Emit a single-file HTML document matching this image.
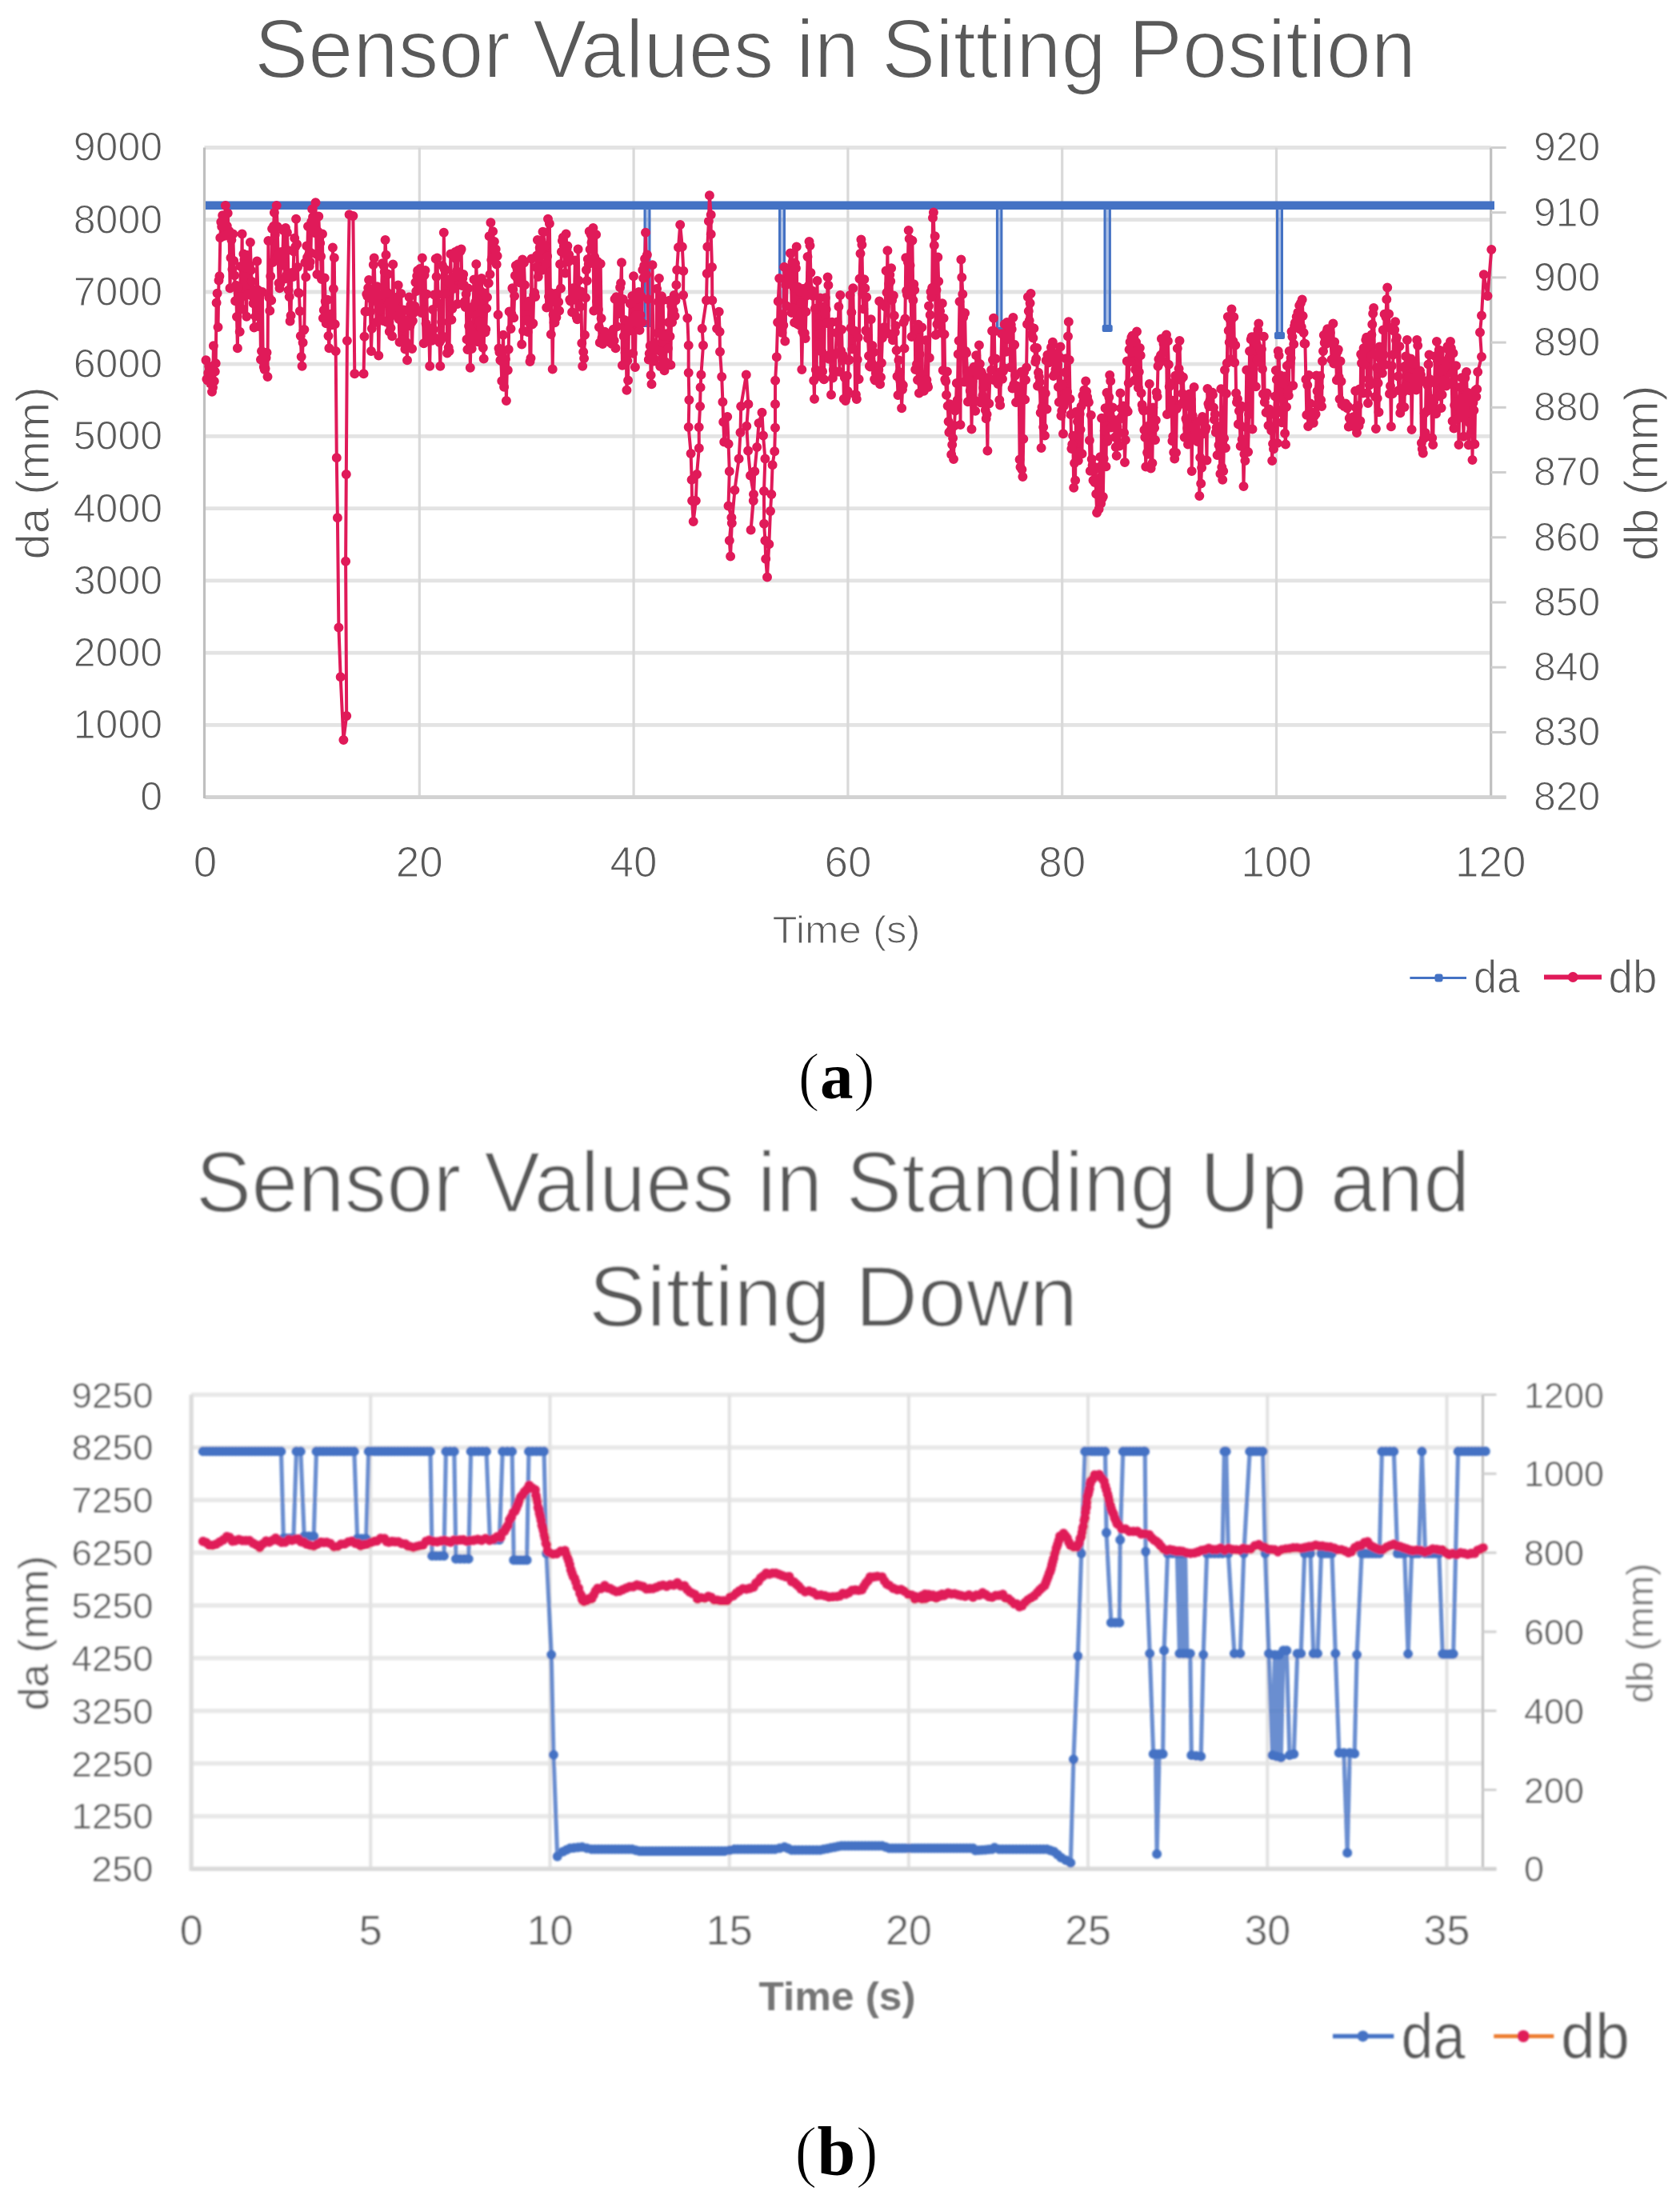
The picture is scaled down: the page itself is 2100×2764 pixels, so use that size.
<!DOCTYPE html><html><head><meta charset="utf-8"><title>Sensor Values</title>
<style>html,body{margin:0;padding:0;background:#fff}svg{display:block}text{font-family:"Liberation Sans",sans-serif;fill:#595959;stroke:#fff;stroke-width:1.1px}.ser{stroke:none}.big{stroke-width:2px}.par{stroke:#fff;stroke-width:1.8px}.nb{stroke:none}.bg text{stroke-width:.5px}.bg text.big{stroke-width:1.6px}.bg text.nb{stroke:none}.ser{font-family:"Liberation Serif",serif;fill:#000;stroke:none}</style></head><body>
<svg width="2100" height="2764" viewBox="0 0 2100 2764">
<rect width="2100" height="2764" fill="#fff"/>
<g id="chartA">
<line x1="255.5" x2="1863.7" y1="184.5" y2="184.5" stroke="#E3E3E3" stroke-width="4.8"/>
<line x1="255.5" x2="1863.7" y1="274.7" y2="274.7" stroke="#E3E3E3" stroke-width="4.8"/>
<line x1="255.5" x2="1863.7" y1="365.0" y2="365.0" stroke="#E3E3E3" stroke-width="4.8"/>
<line x1="255.5" x2="1863.7" y1="455.2" y2="455.2" stroke="#E3E3E3" stroke-width="4.8"/>
<line x1="255.5" x2="1863.7" y1="545.4" y2="545.4" stroke="#E3E3E3" stroke-width="4.8"/>
<line x1="255.5" x2="1863.7" y1="635.7" y2="635.7" stroke="#E3E3E3" stroke-width="4.8"/>
<line x1="255.5" x2="1863.7" y1="725.9" y2="725.9" stroke="#E3E3E3" stroke-width="4.8"/>
<line x1="255.5" x2="1863.7" y1="816.1" y2="816.1" stroke="#E3E3E3" stroke-width="4.8"/>
<line x1="255.5" x2="1863.7" y1="906.4" y2="906.4" stroke="#E3E3E3" stroke-width="4.8"/>
<line x1="255.5" x2="1863.7" y1="996.6" y2="996.6" stroke="#E3E3E3" stroke-width="4.8"/>
<line x1="255.5" x2="255.5" y1="184.5" y2="998.1" stroke="#BFBFBF" stroke-width="3.2"/>
<line x1="524.3" x2="524.3" y1="184.5" y2="998.1" stroke="#D9D9D9" stroke-width="3.2"/>
<line x1="792.1" x2="792.1" y1="184.5" y2="998.1" stroke="#D9D9D9" stroke-width="3.2"/>
<line x1="1059.9" x2="1059.9" y1="184.5" y2="998.1" stroke="#D9D9D9" stroke-width="3.2"/>
<line x1="1327.7" x2="1327.7" y1="184.5" y2="998.1" stroke="#D9D9D9" stroke-width="3.2"/>
<line x1="1595.5" x2="1595.5" y1="184.5" y2="998.1" stroke="#D9D9D9" stroke-width="3.2"/>
<line x1="1863.7" x2="1863.7" y1="184.5" y2="998.1" stroke="#BFBFBF" stroke-width="3.2"/>
<line x1="257.0" x2="1882.7" y1="996.6" y2="996.6" stroke="#D2D2D2" stroke-width="4.6"/>
<line x1="1863.7" x2="1882.7" y1="184.5" y2="184.5" stroke="#CFCFCF" stroke-width="3"/>
<line x1="1863.7" x2="1882.7" y1="265.7" y2="265.7" stroke="#CFCFCF" stroke-width="3"/>
<line x1="1863.7" x2="1882.7" y1="346.9" y2="346.9" stroke="#CFCFCF" stroke-width="3"/>
<line x1="1863.7" x2="1882.7" y1="428.1" y2="428.1" stroke="#CFCFCF" stroke-width="3"/>
<line x1="1863.7" x2="1882.7" y1="509.3" y2="509.3" stroke="#CFCFCF" stroke-width="3"/>
<line x1="1863.7" x2="1882.7" y1="590.5" y2="590.5" stroke="#CFCFCF" stroke-width="3"/>
<line x1="1863.7" x2="1882.7" y1="671.8" y2="671.8" stroke="#CFCFCF" stroke-width="3"/>
<line x1="1863.7" x2="1882.7" y1="753.0" y2="753.0" stroke="#CFCFCF" stroke-width="3"/>
<line x1="1863.7" x2="1882.7" y1="834.2" y2="834.2" stroke="#CFCFCF" stroke-width="3"/>
<line x1="1863.7" x2="1882.7" y1="915.4" y2="915.4" stroke="#CFCFCF" stroke-width="3"/>
<line x1="1863.7" x2="1882.7" y1="996.6" y2="996.6" stroke="#CFCFCF" stroke-width="3"/>
<rect x="806.0" y="257" width="6.0" height="148.0" fill="#4472C4" opacity="0.45"/>
<path d="M806.0 257 V405.0 M812.0 257 V405.0" fill="none" stroke="#4472C4" stroke-width="3"/>
<rect x="802.5" y="400.0" width="13.0" height="9" rx="2" fill="#4472C4"/>
<rect x="974.5" y="257" width="6.0" height="143.0" fill="#4472C4" opacity="0.45"/>
<path d="M974.5 257 V400.0 M980.5 257 V400.0" fill="none" stroke="#4472C4" stroke-width="3"/>
<rect x="971.0" y="395.0" width="13.0" height="9" rx="2" fill="#4472C4"/>
<rect x="1246.4" y="257" width="5.5" height="157.0" fill="#4472C4" opacity="0.45"/>
<path d="M1246.4 257 V414.0 M1251.9 257 V414.0" fill="none" stroke="#4472C4" stroke-width="3"/>
<rect x="1242.7" y="409.0" width="13.0" height="9" rx="2" fill="#4472C4"/>
<rect x="1381.0" y="257" width="6.4" height="154.0" fill="#4472C4" opacity="0.45"/>
<path d="M1381.0 257 V411.0 M1387.4 257 V411.0" fill="none" stroke="#4472C4" stroke-width="3"/>
<rect x="1377.7" y="406.0" width="13.0" height="9" rx="2" fill="#4472C4"/>
<rect x="1596.5" y="257" width="6.0" height="163.0" fill="#4472C4" opacity="0.45"/>
<path d="M1596.5 257 V420.0 M1602.5 257 V420.0" fill="none" stroke="#4472C4" stroke-width="3"/>
<rect x="1593.0" y="415.0" width="13.0" height="9" rx="2" fill="#4472C4"/>
<line x1="257.0" x2="1868.0" y1="256.8" y2="256.8" stroke="#4472C4" stroke-width="10.5"/>
<path d="M257.5 450.3 L258.4 474.1 L259.4 475.5 L260.3 466.3 L261.3 457.8 L262.2 466.6 L263.1 479.4 L264.1 474.3 L265.0 489.7 L266.0 484.2 L266.9 432.2 L267.8 476.4 L268.8 464.5 L269.7 454.2 L270.6 378.4 L271.6 366.8 L272.5 409.0 L273.5 350.4 L274.4 345.2 L275.3 297.3 L276.3 277.6 L277.2 283.3 L278.2 269.3 L279.1 282.9 L280.0 295.1 L281.0 279.4 L281.9 257.0 L282.8 283.2 L283.8 282.4 L284.7 266.4 L285.7 292.6 L286.6 289.1 L287.5 360.2 L288.5 322.3 L289.4 300.1 L290.4 336.7 L291.3 292.6 L292.2 326.1 L293.2 344.2 L294.1 376.3 L295.0 356.7 L296.0 395.9 L296.9 435.3 L297.9 359.3 L298.8 371.3 L299.7 414.7 L300.7 333.1 L301.6 371.4 L302.6 292.6 L303.5 386.8 L304.4 317.4 L305.4 324.4 L306.3 325.8 L307.2 334.7 L308.2 395.8 L309.1 319.1 L310.1 368.0 L311.0 367.3 L311.9 332.0 L312.9 302.9 L313.8 337.7 L314.8 352.1 L315.7 370.6 L316.6 379.3 L317.6 409.5 L318.5 362.6 L319.4 395.6 L320.4 371.1 L321.3 326.4 L322.3 362.5 L323.2 408.1 L324.1 376.9 L325.1 367.9 L326.0 449.6 L327.0 439.0 L327.9 365.1 L328.8 451.7 L329.8 458.7 L330.7 462.0 L331.6 460.8 L332.6 447.3 L333.5 440.7 L334.5 470.9 L335.4 301.1 L336.3 372.1 L337.3 388.5 L338.2 345.2 L339.2 375.4 L340.1 286.0 L341.0 328.0 L342.0 282.8 L342.9 265.7 L343.8 293.4 L344.8 324.3 L345.7 257.0 L346.7 283.3 L347.6 318.3 L348.5 353.9 L349.5 360.2 L350.4 354.4 L351.4 315.0 L352.3 331.8 L353.2 325.4 L354.2 288.1 L355.1 317.9 L356.0 348.5 L357.0 285.1 L357.9 344.6 L358.9 290.6 L359.8 312.9 L360.7 362.7 L361.7 371.1 L362.6 401.5 L363.6 394.4 L364.5 341.0 L365.4 342.3 L366.4 346.0 L367.3 314.6 L368.2 297.7 L369.2 308.5 L370.1 273.8 L371.1 305.3 L372.0 334.1 L372.9 366.1 L373.9 366.4 L374.8 389.0 L375.8 419.9 L376.7 446.1 L377.6 457.8 L378.6 428.3 L379.5 412.9 L380.4 411.9 L381.4 328.3 L382.3 346.3 L383.3 307.6 L384.1 321.8 L385.0 282.9 L385.9 318.4 L386.7 332.7 L387.6 327.4 L388.5 316.1 L389.3 276.9 L390.2 261.5 L391.1 271.2 L391.9 287.8 L392.8 278.0 L393.7 291.2 L394.5 253.2 L395.5 317.8 L396.4 343.0 L397.3 289.2 L398.3 270.4 L399.2 292.4 L400.2 303.9 L401.1 320.6 L402.0 348.9 L403.0 292.4 L403.9 397.7 L404.8 387.8 L405.8 347.6 L406.7 376.7 L407.7 404.3 L408.6 394.6 L409.5 374.8 L410.5 420.0 L411.4 435.3 L412.3 399.9 L413.2 403.7 L414.1 392.6 L415.0 406.2 L415.9 309.5 L416.9 361.0 L417.8 322.3 L418.7 405.3 L419.7 439.0 L420.8 572.3 L421.9 647.3 L423.4 784.4 L425.7 846.3 L429.4 925.1 L433.2 895.1 L432.1 701.8 L432.8 592.9 L433.9 425.9 L436.6 268.2 L441.4 270.1 L443.3 467.2 L454.6 467.2 L455.5 420.8 L456.5 389.5 L457.4 389.4 L458.3 367.7 L459.3 370.2 L460.2 360.0 L461.1 349.9 L462.1 372.5 L463.0 389.6 L464.0 439.1 L464.9 410.7 L465.8 372.1 L466.8 331.1 L467.7 322.6 L468.7 364.1 L469.6 370.0 L470.5 402.8 L471.5 358.2 L472.4 379.0 L473.3 444.6 L474.3 387.9 L475.2 383.6 L476.1 400.3 L477.0 368.4 L477.9 329.3 L478.9 400.9 L479.8 332.3 L480.7 339.9 L481.6 300.1 L482.5 318.7 L483.3 402.8 L484.2 365.8 L485.1 342.8 L485.9 379.1 L486.8 414.4 L487.7 391.7 L488.5 409.9 L489.4 386.0 L490.2 420.2 L491.2 330.4 L492.1 373.4 L493.1 381.7 L494.0 373.2 L494.9 375.6 L495.9 395.0 L496.8 371.5 L497.7 356.4 L498.6 399.0 L499.5 427.8 L500.3 387.6 L501.2 367.0 L502.1 392.2 L502.9 424.7 L503.8 409.3 L504.7 387.5 L505.5 407.5 L506.4 436.4 L507.3 400.6 L508.1 428.0 L509.0 450.3 L509.9 387.3 L510.7 404.5 L511.6 371.5 L512.5 407.2 L513.3 381.3 L514.2 403.2 L515.1 435.9 L515.9 400.9 L516.8 391.6 L517.7 386.3 L518.5 382.8 L519.4 353.0 L520.3 363.9 L521.2 344.9 L522.1 338.3 L523.1 351.5 L524.0 338.9 L525.0 336.0 L525.9 356.7 L526.8 390.9 L527.8 322.6 L528.7 387.0 L529.7 429.2 L530.6 344.0 L531.5 338.0 L532.5 404.6 L533.4 367.8 L534.3 416.0 L535.3 419.2 L536.2 413.5 L537.2 457.8 L538.1 410.8 L539.0 423.6 L540.0 425.8 L540.9 387.0 L541.9 412.0 L542.8 368.4 L543.7 422.4 L544.7 323.4 L545.6 346.1 L546.5 322.6 L547.5 368.0 L548.4 379.3 L549.4 428.1 L550.3 457.8 L551.2 425.1 L552.1 402.6 L553.0 332.1 L553.9 420.7 L554.8 290.7 L555.6 336.2 L556.5 367.1 L557.3 337.4 L558.2 350.8 L559.0 441.6 L559.9 349.2 L560.7 434.5 L561.6 439.0 L562.5 354.3 L563.4 317.4 L564.4 399.8 L565.3 385.9 L566.3 346.1 L567.2 360.8 L568.1 345.7 L569.1 315.1 L570.0 323.4 L570.9 339.0 L571.9 380.0 L572.8 313.1 L573.8 313.6 L574.7 313.3 L575.6 314.0 L576.6 311.4 L577.4 357.0 L578.3 348.1 L579.2 343.1 L580.0 356.2 L580.9 376.9 L581.8 384.1 L582.6 367.8 L583.5 424.2 L584.4 436.9 L585.2 360.5 L586.1 407.5 L587.0 392.8 L587.8 459.7 L588.8 413.1 L589.7 436.0 L590.7 416.6 L591.6 382.9 L592.5 349.5 L593.5 426.1 L594.4 377.5 L595.3 330.2 L596.3 357.2 L597.2 427.2 L598.2 420.3 L599.1 401.8 L600.0 363.1 L601.0 408.9 L601.9 348.1 L602.9 402.3 L603.8 434.8 L604.7 448.4 L605.6 366.6 L606.5 415.4 L607.3 411.8 L608.2 385.5 L609.0 371.6 L609.9 354.1 L610.8 354.1 L611.6 295.2 L612.5 343.0 L613.4 278.3 L614.3 325.0 L615.2 322.0 L616.1 289.2 L617.0 301.9 L617.9 301.9 L618.8 311.9 L619.7 311.4 L620.7 330.5 L621.6 319.9 L622.6 393.5 L623.5 435.6 L624.4 440.2 L625.4 450.3 L626.3 450.9 L627.3 476.3 L628.2 440.3 L629.1 418.7 L630.1 483.7 L631.0 460.4 L631.9 449.1 L632.9 500.9 L633.8 463.3 L634.8 462.7 L635.7 436.7 L636.6 389.5 L637.6 390.1 L638.5 411.0 L639.5 392.7 L640.4 360.2 L641.3 361.7 L642.2 397.2 L643.1 370.1 L643.9 344.5 L644.8 332.0 L645.7 346.6 L646.6 336.9 L647.5 330.2 L648.4 330.4 L649.4 353.2 L650.3 341.0 L651.3 330.8 L652.2 430.6 L653.1 324.5 L654.1 413.7 L655.0 328.6 L656.0 356.3 L656.9 400.8 L657.8 382.8 L658.8 400.2 L659.7 414.9 L660.6 401.6 L661.6 376.4 L662.5 452.1 L663.5 447.7 L664.4 323.5 L665.3 405.4 L666.3 404.3 L667.2 369.1 L668.2 366.1 L669.1 371.0 L670.0 334.1 L671.0 319.6 L671.9 300.1 L672.8 346.0 L673.8 323.0 L674.7 309.8 L675.7 312.1 L676.6 300.8 L677.5 337.7 L678.5 289.7 L679.4 290.1 L680.4 306.8 L681.3 307.7 L682.2 330.1 L683.2 384.4 L684.1 320.3 L685.0 273.8 L686.0 370.8 L686.9 279.5 L687.9 366.1 L688.8 417.9 L689.7 377.4 L690.7 461.5 L691.6 393.6 L692.6 403.3 L693.5 403.2 L694.4 366.9 L695.4 396.8 L696.3 390.2 L697.2 388.6 L698.2 377.5 L699.1 388.4 L700.1 330.2 L701.0 360.4 L701.9 314.7 L702.9 300.9 L703.8 296.7 L704.8 307.5 L705.7 316.7 L706.6 341.6 L707.6 292.6 L708.5 311.8 L709.4 307.4 L710.4 327.3 L711.3 318.6 L712.3 374.6 L713.2 376.4 L714.1 375.4 L715.1 390.2 L716.0 360.2 L717.0 365.3 L717.9 374.5 L718.8 325.4 L719.8 364.0 L720.7 396.6 L721.6 399.2 L722.6 311.4 L723.5 350.8 L724.5 368.1 L725.4 383.4 L726.3 364.5 L727.3 429.1 L728.2 457.8 L729.2 439.9 L730.1 447.9 L731.0 418.7 L732.0 372.3 L732.9 337.4 L733.8 350.9 L734.8 323.9 L735.7 330.2 L736.7 289.3 L737.6 311.7 L738.5 292.9 L739.5 303.3 L740.4 308.3 L741.4 285.1 L742.3 388.5 L743.2 321.3 L744.2 329.4 L745.1 293.3 L746.0 376.7 L747.0 327.0 L747.9 387.0 L748.9 409.0 L749.8 428.2 L750.7 329.8 L751.6 397.9 L752.4 422.6 L753.3 430.0 L754.2 428.0 L755.1 425.9 L756.0 414.7 L756.9 426.7 L757.8 421.9 L758.7 424.1 L759.6 423.1 L760.5 418.5 L761.4 426.7 L762.3 418.7 L763.2 428.4 L764.1 428.4 L765.0 430.1 L765.9 426.0 L766.8 411.8 L767.7 425.8 L768.6 373.7 L769.5 435.3 L770.4 371.3 L771.4 408.2 L772.3 373.5 L773.3 392.3 L774.2 381.7 L775.1 359.2 L776.1 354.1 L777.0 328.3 L777.9 456.7 L778.8 374.0 L779.7 420.2 L780.7 400.0 L781.6 440.9 L782.5 412.5 L783.4 487.8 L784.3 451.0 L785.1 475.4 L786.0 405.8 L786.8 413.5 L787.7 379.6 L788.6 400.4 L789.4 378.6 L790.3 370.1 L791.2 441.7 L792.0 345.2 L793.0 371.5 L793.9 459.1 L794.8 394.1 L795.8 403.3 L796.7 373.4 L797.7 372.1 L798.6 365.1 L799.5 412.7 L800.5 394.0 L801.4 370.2 L802.3 403.3 L803.3 337.4 L804.2 347.7 L805.2 332.0 L806.1 323.4 L807.0 290.7 L808.0 343.6 L808.9 318.5 L809.9 374.0 L810.8 449.6 L811.7 442.0 L812.7 432.2 L813.6 469.1 L814.5 480.3 L815.5 331.2 L816.4 446.7 L817.4 451.6 L818.3 428.9 L819.2 437.2 L820.2 437.2 L821.1 361.0 L822.1 416.3 L823.0 377.3 L823.9 347.9 L825.2 458.0 L826.1 439.4 L827.0 370.2 L827.9 447.1 L828.7 375.3 L829.6 420.1 L830.5 463.3 L831.4 452.3 L832.2 456.8 L833.1 417.2 L834.0 420.1 L834.9 435.5 L835.7 403.0 L836.6 375.7 L837.5 420.4 L838.4 456.2 L839.2 382.8 L840.1 403.0 L841.0 393.2 L841.9 388.3 L842.7 368.9 L843.6 395.1 L844.5 375.4 L845.4 356.3 L846.2 337.4 L846.2 337.4 L848.0 309.2 L850.2 281.0 L852.8 308.5 L854.3 338.7 L854.1 368.9 L859.3 397.7 L860.7 431.8 L860.7 465.9 L861.4 500.0 L860.7 534.1 L863.6 566.9 L864.6 599.7 L865.1 625.9 L866.7 652.1 L869.8 625.9 L871.0 593.1 L873.8 560.3 L873.7 534.1 L875.1 507.9 L875.6 484.3 L876.4 468.5 L879.0 431.8 L877.7 410.8 L883.0 375.4 L883.7 342.0 L884.3 308.5 L885.9 276.4 L886.9 244.3 L888.7 268.5 L888.7 292.8 L890.0 334.1 L890.3 375.4 L896.1 410.8 L898.7 389.8 L899.6 414.8 L900.0 439.7 L902.2 471.1 L903.4 502.6 L904.2 527.5 L905.2 552.5 L909.2 521.0 L910.6 555.1 L911.8 589.2 L910.5 632.5 L914.4 646.9 L911.8 675.7 L913.1 695.4 L914.8 654.1 L918.4 612.8 L923.6 573.4 L925.5 540.7 L926.2 507.9 L932.8 468.5 L935.4 505.2 L933.3 532.8 L935.1 563.6 L938.0 594.4 L942.0 618.0 L938.6 662.6 L941.8 625.9 L943.3 589.2 L946.2 559.0 L948.5 528.9 L952.5 515.7 L954.0 544.6 L956.4 573.4 L955.0 614.1 L955.1 654.8 L956.4 675.7 L957.2 698.7 L959.0 721.6 L961.3 680.3 L963.0 639.0 L964.3 618.0 L965.6 581.3 L968.2 564.3 L969.0 534.8 L969.0 505.2 L969.1 475.7 L970.8 446.2 L972.1 403.0 L972.7 376.7 L974.2 347.9 L974.2 347.9 L975.3 403.7 L976.3 409.0 L977.4 416.1 L978.4 392.9 L979.3 406.5 L980.3 333.7 L981.3 426.6 L982.2 356.2 L983.1 382.6 L983.9 337.4 L984.9 350.7 L985.9 352.3 L986.9 345.6 L987.9 316.4 L988.7 316.9 L989.6 390.9 L990.5 328.0 L991.4 385.1 L992.2 359.2 L993.1 403.2 L994.0 329.5 L994.9 335.2 L995.7 308.5 L996.6 404.9 L997.5 358.8 L998.4 361.1 L999.2 406.5 L1000.1 365.1 L1001.0 379.3 L1002.3 462.0 L1003.2 414.5 L1004.0 360.9 L1004.9 417.8 L1005.8 416.4 L1006.7 422.9 L1007.5 389.8 L1008.5 369.5 L1009.5 320.9 L1010.5 357.5 L1011.5 302.0 L1012.5 306.9 L1013.4 341.0 L1014.4 367.9 L1015.4 363.6 L1016.3 370.1 L1017.2 475.8 L1018.0 498.7 L1018.9 385.7 L1019.8 462.3 L1020.7 470.8 L1021.5 351.0 L1022.4 431.1 L1023.3 405.6 L1024.3 417.5 L1025.2 372.4 L1026.2 471.0 L1027.2 439.7 L1028.1 464.3 L1029.0 383.8 L1030.0 474.2 L1030.9 392.0 L1031.8 372.3 L1032.7 386.7 L1033.6 403.9 L1034.6 346.6 L1035.4 356.5 L1036.3 448.8 L1037.2 443.5 L1038.1 443.1 L1039.0 493.4 L1040.0 402.7 L1040.9 472.4 L1041.8 462.3 L1042.8 444.0 L1043.7 465.6 L1044.6 441.9 L1045.6 416.1 L1046.5 402.4 L1047.5 417.1 L1048.4 383.2 L1049.4 464.7 L1050.3 368.9 L1051.2 438.5 L1052.1 412.1 L1053.0 450.7 L1053.9 444.2 L1054.8 498.7 L1055.8 471.9 L1056.9 500.9 L1057.8 496.9 L1058.8 469.7 L1059.7 489.0 L1060.6 450.5 L1061.6 449.9 L1062.5 369.1 L1063.5 410.1 L1064.4 390.4 L1065.3 436.5 L1066.3 360.2 L1067.2 413.8 L1068.1 413.5 L1069.0 493.2 L1069.9 493.2 L1070.8 499.1 L1071.7 449.5 L1072.7 422.0 L1073.6 473.9 L1074.5 348.6 L1075.5 317.0 L1076.4 299.4 L1077.4 306.1 L1078.4 367.9 L1079.3 386.2 L1080.3 349.2 L1081.3 360.2 L1082.2 413.3 L1083.2 371.4 L1084.1 415.2 L1085.0 422.9 L1086.0 445.0 L1086.9 457.8 L1087.8 458.6 L1088.7 399.3 L1089.5 453.8 L1090.4 432.1 L1091.3 456.2 L1092.2 440.3 L1093.1 474.1 L1093.9 475.6 L1094.8 466.3 L1095.7 473.5 L1096.6 462.4 L1097.4 465.1 L1098.3 462.2 L1099.2 376.4 L1100.1 480.3 L1101.0 471.6 L1101.9 453.8 L1102.9 422.5 L1103.8 412.3 L1104.8 409.3 L1105.7 409.0 L1106.6 383.4 L1107.6 338.5 L1108.5 365.7 L1109.4 313.3 L1110.4 417.1 L1111.3 354.7 L1112.3 343.5 L1113.2 351.4 L1114.1 335.3 L1115.1 375.2 L1116.0 425.3 L1116.9 369.5 L1117.8 394.6 L1118.8 415.3 L1119.7 407.2 L1120.6 437.9 L1121.5 470.5 L1122.5 493.9 L1123.4 450.2 L1124.3 465.2 L1125.2 475.8 L1126.2 478.2 L1127.1 510.3 L1128.0 487.1 L1128.8 481.6 L1129.7 402.9 L1130.5 435.4 L1131.4 398.4 L1132.3 322.2 L1133.1 363.5 L1134.0 368.4 L1134.9 327.7 L1135.7 288.1 L1136.7 298.5 L1137.6 331.7 L1138.5 361.5 L1139.5 421.0 L1140.4 300.7 L1141.4 375.2 L1142.3 355.2 L1143.2 362.5 L1144.2 462.1 L1145.1 411.3 L1146.0 455.2 L1147.0 475.0 L1147.9 405.7 L1148.9 491.6 L1149.7 443.1 L1150.6 410.4 L1151.5 478.6 L1152.3 409.3 L1153.2 488.6 L1154.1 486.2 L1154.9 488.7 L1155.8 486.2 L1156.7 478.7 L1157.5 425.3 L1158.4 474.9 L1159.3 481.4 L1160.1 484.1 L1161.0 382.5 L1161.8 447.3 L1162.7 393.7 L1163.5 364.8 L1164.3 371.4 L1165.2 359.8 L1166.0 272.2 L1166.9 265.6 L1167.8 306.7 L1168.7 295.2 L1169.6 418.8 L1170.5 362.5 L1171.4 405.2 L1172.3 321.4 L1173.2 351.7 L1174.1 383.9 L1175.1 388.9 L1176.0 416.1 L1176.9 397.4 L1177.8 379.3 L1178.7 463.1 L1179.6 397.7 L1180.5 417.9 L1181.3 474.3 L1182.2 476.8 L1183.0 493.8 L1183.9 464.5 L1184.7 507.4 L1185.6 527.0 L1186.4 540.4 L1187.3 505.3 L1188.3 538.0 L1189.2 568.2 L1190.2 555.9 L1191.1 547.7 L1192.0 574.1 L1193.0 532.2 L1193.9 513.5 L1194.8 508.0 L1195.8 479.0 L1196.7 500.3 L1197.7 442.8 L1198.6 426.1 L1199.5 377.1 L1200.5 530.9 L1201.4 324.5 L1202.3 346.8 L1203.3 367.8 L1204.2 396.5 L1205.2 477.4 L1206.1 391.3 L1207.0 439.0 L1208.0 441.3 L1208.9 464.5 L1209.9 502.2 L1210.8 474.5 L1211.7 478.7 L1212.7 488.6 L1213.6 463.6 L1214.5 536.6 L1215.5 477.0 L1216.4 460.7 L1217.4 458.7 L1218.3 500.6 L1219.2 513.8 L1220.2 444.2 L1221.1 459.7 L1222.1 468.7 L1223.0 457.8 L1223.9 431.5 L1224.8 455.1 L1225.7 503.3 L1226.6 464.9 L1227.4 467.2 L1228.3 494.5 L1229.2 484.8 L1230.1 477.8 L1230.9 497.4 L1231.8 512.7 L1232.7 523.2 L1233.6 517.9 L1234.4 563.6 L1235.4 472.1 L1236.3 504.5 L1237.3 474.0 L1238.2 474.6 L1239.1 462.4 L1240.1 413.7 L1241.0 449.9 L1242.0 397.7 L1242.9 414.3 L1243.8 475.8 L1244.7 448.5 L1245.6 476.8 L1246.5 470.5 L1247.5 480.1 L1248.4 470.5 L1249.3 500.0 L1250.2 506.6 L1251.1 464.8 L1252.1 417.2 L1253.0 473.7 L1254.0 464.1 L1254.9 459.9 L1255.8 405.3 L1256.8 438.8 L1257.7 439.8 L1258.7 403.0 L1259.6 424.0 L1260.4 419.9 L1261.3 417.2 L1262.1 408.9 L1263.0 459.2 L1263.8 405.9 L1264.7 411.5 L1265.5 485.6 L1266.4 397.0 L1267.3 480.7 L1268.2 431.0 L1269.1 469.2 L1270.0 503.0 L1270.9 482.6 L1271.8 483.0 L1272.7 502.8 L1273.7 488.5 L1274.6 574.5 L1275.5 584.0 L1276.5 465.1 L1277.4 587.1 L1278.4 595.9 L1279.3 548.8 L1280.2 464.9 L1281.2 499.6 L1282.1 474.9 L1283.1 459.6 L1284.0 405.2 L1284.9 371.3 L1285.8 388.9 L1286.7 400.8 L1287.6 379.0 L1288.5 366.9 L1289.5 417.9 L1290.5 409.7 L1291.4 422.4 L1292.4 410.5 L1293.4 435.3 L1294.3 452.3 L1295.2 448.5 L1296.1 434.9 L1297.0 482.5 L1298.0 465.7 L1298.9 470.9 L1299.8 477.8 L1300.7 516.1 L1301.6 559.9 L1302.5 508.9 L1303.4 488.3 L1304.2 533.9 L1305.1 493.6 L1306.0 544.4 L1306.8 491.8 L1307.7 450.6 L1308.5 511.5 L1309.4 443.7 L1310.3 450.3 L1311.2 453.2 L1312.1 442.4 L1313.1 444.1 L1314.0 434.3 L1315.0 446.6 L1315.9 427.7 L1316.8 470.0 L1317.7 445.1 L1318.5 467.3 L1319.4 461.9 L1320.3 442.1 L1321.2 452.3 L1322.0 455.5 L1322.9 483.7 L1323.8 502.7 L1324.7 446.7 L1325.5 433.6 L1326.4 519.8 L1327.3 513.6 L1328.2 480.4 L1329.0 542.2 L1329.9 507.6 L1330.7 496.5 L1331.6 465.5 L1332.4 448.3 L1333.3 501.4 L1334.1 490.0 L1335.0 420.4 L1335.8 402.2 L1336.7 449.9 L1337.6 498.7 L1338.5 518.3 L1339.4 560.9 L1340.3 555.4 L1341.2 544.7 L1342.2 609.8 L1343.1 579.1 L1344.1 600.4 L1345.0 515.1 L1345.9 566.9 L1346.9 526.9 L1347.8 575.7 L1348.7 565.0 L1349.7 517.8 L1350.6 537.1 L1351.6 508.1 L1352.5 567.2 L1353.4 494.5 L1354.4 502.1 L1355.3 487.7 L1356.3 492.1 L1357.2 476.5 L1358.1 489.6 L1359.1 496.3 L1360.0 500.9 L1360.9 502.9 L1361.9 550.4 L1362.8 588.8 L1363.8 519.0 L1364.7 574.1 L1365.6 581.8 L1366.5 600.4 L1367.4 585.6 L1368.3 603.1 L1369.3 586.4 L1370.2 617.6 L1371.1 641.0 L1371.9 605.1 L1372.8 598.1 L1373.6 636.5 L1374.5 583.8 L1375.3 571.3 L1376.1 629.6 L1377.0 522.8 L1377.8 622.9 L1378.8 621.1 L1379.7 573.2 L1380.7 538.4 L1381.6 510.3 L1382.5 583.2 L1383.5 490.9 L1384.4 551.8 L1385.3 548.5 L1386.3 496.6 L1387.2 469.0 L1388.2 476.2 L1389.1 534.4 L1390.0 523.3 L1391.0 509.5 L1391.9 529.2 L1392.9 533.0 L1393.8 546.4 L1394.7 559.1 L1395.7 569.8 L1396.6 533.8 L1397.5 542.2 L1398.5 524.4 L1399.4 557.6 L1400.4 491.6 L1401.3 510.4 L1402.2 520.4 L1403.2 519.1 L1404.1 507.6 L1405.1 541.0 L1406.0 577.9 L1406.9 550.0 L1407.9 511.8 L1408.8 451.5 L1409.7 514.4 L1410.7 479.1 L1411.6 437.1 L1412.6 427.5 L1413.5 452.0 L1414.4 421.7 L1415.4 419.7 L1416.3 440.1 L1417.3 427.6 L1418.2 475.4 L1419.1 462.0 L1420.1 427.7 L1421.0 414.6 L1421.9 441.2 L1422.9 484.8 L1423.8 465.0 L1424.8 435.0 L1425.7 444.2 L1426.6 491.6 L1427.6 506.0 L1428.5 511.2 L1429.5 513.5 L1430.4 537.5 L1431.3 546.8 L1432.3 583.5 L1433.2 533.2 L1434.1 565.7 L1435.0 567.7 L1435.9 513.0 L1436.8 480.0 L1437.7 533.6 L1438.6 585.4 L1439.5 527.8 L1440.4 579.1 L1441.3 509.4 L1442.2 531.2 L1443.1 535.0 L1444.0 550.1 L1444.8 525.2 L1445.7 490.6 L1446.6 495.8 L1447.5 457.8 L1448.4 449.0 L1449.3 454.1 L1450.1 446.9 L1451.0 444.0 L1451.9 423.5 L1452.8 450.9 L1453.6 441.3 L1454.5 430.1 L1455.4 436.3 L1456.3 430.9 L1457.1 425.6 L1458.0 418.4 L1458.9 518.1 L1459.9 426.2 L1460.8 455.7 L1461.7 483.2 L1462.6 478.9 L1463.5 510.7 L1464.5 500.4 L1465.4 551.3 L1466.3 545.4 L1467.2 565.6 L1468.2 573.4 L1469.1 469.7 L1470.0 566.1 L1470.9 511.1 L1471.8 435.6 L1472.7 470.9 L1473.6 461.0 L1474.5 425.9 L1475.4 468.8 L1476.3 474.9 L1477.2 504.7 L1478.0 492.0 L1478.9 471.4 L1479.8 500.9 L1480.7 546.8 L1481.5 497.7 L1482.4 523.2 L1483.3 525.7 L1484.2 535.3 L1485.0 555.4 L1486.0 534.0 L1486.9 492.5 L1487.9 509.1 L1488.8 499.5 L1489.7 589.1 L1490.7 519.4 L1491.6 546.8 L1492.6 484.1 L1493.4 533.4 L1494.2 538.2 L1495.1 538.2 L1495.9 546.7 L1496.8 552.1 L1497.6 540.8 L1498.5 526.7 L1499.3 619.9 L1500.2 571.9 L1501.2 604.6 L1502.1 584.8 L1503.0 521.1 L1503.9 542.2 L1504.8 524.8 L1505.8 526.6 L1506.7 537.9 L1507.6 534.7 L1508.5 575.6 L1509.4 485.9 L1510.4 504.7 L1511.3 508.0 L1512.3 501.0 L1513.2 491.3 L1514.1 495.0 L1515.1 490.5 L1516.0 493.4 L1517.0 509.6 L1517.9 524.5 L1518.8 517.8 L1519.8 540.4 L1520.7 534.6 L1521.6 569.1 L1522.6 533.0 L1523.5 556.3 L1524.5 557.8 L1525.4 592.3 L1526.3 486.3 L1527.3 584.0 L1528.2 599.7 L1529.2 588.9 L1530.1 547.9 L1531.0 462.5 L1532.0 559.9 L1532.9 491.9 L1533.8 454.0 L1534.8 395.9 L1535.7 413.3 L1536.7 428.1 L1537.6 399.7 L1538.5 449.3 L1539.5 386.5 L1540.4 398.0 L1541.4 426.6 L1542.3 396.3 L1543.2 453.2 L1544.2 431.6 L1545.1 491.6 L1546.0 503.1 L1547.0 498.7 L1547.9 530.3 L1548.9 513.8 L1549.8 531.2 L1550.7 557.7 L1551.7 507.6 L1552.6 549.2 L1553.6 552.9 L1554.5 607.9 L1555.4 567.8 L1556.4 576.0 L1557.3 533.9 L1558.2 462.6 L1559.2 509.4 L1560.1 565.1 L1561.1 518.0 L1562.0 439.0 L1562.9 479.6 L1563.7 424.3 L1564.6 421.2 L1565.5 536.6 L1566.3 424.9 L1567.2 423.1 L1568.1 420.7 L1568.9 426.0 L1569.8 483.3 L1570.7 430.3 L1571.5 449.7 L1572.4 412.4 L1573.3 404.5 L1574.2 452.9 L1575.1 437.3 L1576.1 440.0 L1577.0 436.5 L1578.0 461.2 L1578.9 492.4 L1579.8 420.7 L1580.8 502.8 L1581.7 496.4 L1582.6 515.8 L1583.6 491.4 L1584.5 515.2 L1585.5 532.1 L1586.4 511.6 L1587.3 517.9 L1588.3 518.1 L1589.2 538.2 L1590.2 576.0 L1591.1 554.7 L1592.0 561.3 L1593.0 518.0 L1593.9 495.5 L1594.8 462.9 L1595.8 474.5 L1596.7 554.0 L1597.7 439.0 L1598.6 444.3 L1599.5 470.4 L1600.5 469.3 L1601.4 515.5 L1602.3 528.3 L1603.3 511.4 L1604.2 479.7 L1605.2 470.4 L1606.1 541.7 L1607.0 555.4 L1608.0 508.8 L1608.9 457.3 L1609.9 489.1 L1610.8 494.5 L1611.7 439.0 L1612.7 453.5 L1613.6 447.5 L1614.5 414.6 L1615.4 421.0 L1616.3 481.9 L1617.2 430.2 L1618.1 407.6 L1618.9 403.5 L1619.8 403.4 L1620.7 395.9 L1621.6 398.2 L1622.4 390.4 L1623.3 404.4 L1624.2 382.0 L1625.1 411.4 L1625.9 379.1 L1626.8 408.7 L1627.7 374.4 L1628.6 395.1 L1629.6 416.1 L1630.5 429.5 L1631.4 429.7 L1632.4 474.3 L1633.3 518.7 L1634.3 481.6 L1635.2 532.9 L1636.1 468.9 L1637.1 514.5 L1638.0 504.4 L1638.9 520.7 L1639.9 528.8 L1640.8 521.6 L1641.8 528.8 L1642.7 520.2 L1643.6 515.5 L1644.6 517.8 L1645.5 469.5 L1646.5 489.0 L1647.4 507.6 L1648.3 496.2 L1649.3 483.8 L1650.2 470.0 L1651.1 500.0 L1652.1 508.0 L1653.0 451.6 L1654.0 439.0 L1654.8 419.0 L1655.7 428.5 L1656.6 425.8 L1657.5 429.9 L1658.4 414.4 L1659.3 411.2 L1660.2 427.6 L1661.0 423.1 L1661.9 416.0 L1662.8 416.0 L1663.7 428.2 L1664.6 449.6 L1665.5 428.2 L1666.4 404.5 L1667.3 454.4 L1668.2 427.4 L1669.1 438.3 L1670.0 443.9 L1670.9 475.2 L1671.9 439.2 L1672.8 437.0 L1673.7 471.6 L1674.6 499.1 L1675.5 451.4 L1676.5 476.8 L1677.4 505.8 L1678.4 505.8 L1679.3 506.1 L1680.2 508.1 L1681.2 504.8 L1682.1 504.6 L1683.1 506.4 L1684.0 510.3 L1684.9 508.0 L1685.8 533.5 L1686.8 522.8 L1687.7 531.6 L1688.6 528.0 L1689.5 532.4 L1690.5 524.0 L1691.4 521.3 L1692.3 532.8 L1693.2 520.8 L1694.2 488.7 L1695.1 509.8 L1696.0 541.1 L1696.9 523.7 L1697.7 507.2 L1698.6 532.2 L1699.5 486.6 L1700.3 526.2 L1701.2 442.8 L1702.0 454.1 L1702.9 445.8 L1703.8 491.5 L1704.6 435.3 L1705.5 455.8 L1706.4 435.9 L1707.3 425.0 L1708.2 421.7 L1709.1 491.2 L1710.0 503.9 L1710.9 474.0 L1711.8 481.4 L1712.6 430.2 L1713.5 478.3 L1714.4 418.5 L1715.3 405.6 L1716.2 392.1 L1717.1 385.1 L1718.0 442.9 L1719.0 496.0 L1719.9 536.1 L1720.8 459.4 L1721.7 498.0 L1722.6 479.1 L1723.5 515.2 L1724.4 433.6 L1725.3 448.4 L1726.2 450.0 L1727.1 437.7 L1727.9 466.5 L1728.8 412.4 L1729.7 443.6 L1730.6 392.7 L1731.5 456.1 L1732.4 396.2 L1733.3 374.2 L1734.2 359.5 L1735.1 408.8 L1736.1 392.5 L1737.0 492.2 L1738.0 482.6 L1738.9 533.3 L1739.8 457.6 L1740.6 492.2 L1741.5 443.4 L1742.4 413.7 L1743.2 412.2 L1744.1 402.2 L1745.0 425.8 L1745.9 422.0 L1746.8 434.7 L1747.6 470.4 L1748.5 488.0 L1749.4 433.0 L1750.3 516.2 L1751.2 508.4 L1752.0 510.6 L1752.9 486.1 L1753.7 490.5 L1754.6 459.1 L1755.5 509.0 L1756.3 457.7 L1757.2 445.6 L1758.0 482.9 L1758.9 425.0 L1759.9 447.4 L1760.8 471.2 L1761.8 488.1 L1762.7 452.8 L1763.6 448.4 L1764.6 537.0 L1765.5 482.7 L1766.5 472.4 L1767.4 454.9 L1768.4 471.4 L1769.3 474.1 L1770.3 487.5 L1771.2 425.0 L1772.2 432.1 L1773.1 465.5 L1774.0 478.4 L1775.0 463.4 L1776.0 468.5 L1776.9 553.8 L1777.8 561.2 L1778.8 566.5 L1779.8 548.3 L1780.7 516.8 L1781.7 541.1 L1782.6 476.5 L1783.6 513.9 L1784.5 481.8 L1785.5 455.4 L1786.5 443.4 L1787.4 474.3 L1788.3 498.3 L1789.3 507.4 L1790.2 547.6 L1791.2 556.0 L1792.1 502.9 L1793.1 478.5 L1794.0 445.2 L1795.0 517.3 L1795.9 427.0 L1796.9 451.1 L1797.8 495.4 L1798.8 437.6 L1799.7 442.2 L1800.7 464.3 L1801.6 509.9 L1802.6 493.4 L1803.5 475.4 L1804.3 462.2 L1805.2 482.4 L1806.1 451.3 L1806.9 456.9 L1807.8 482.5 L1808.7 435.8 L1809.5 432.9 L1810.4 478.6 L1811.3 446.7 L1812.1 437.0 L1813.0 427.0 L1813.9 435.2 L1814.8 479.8 L1815.6 526.5 L1816.5 441.4 L1817.4 535.5 L1818.2 506.4 L1819.1 525.1 L1820.0 457.2 L1820.9 502.2 L1821.8 524.0 L1822.6 508.2 L1823.5 556.0 L1824.4 503.9 L1825.2 484.1 L1826.1 516.9 L1827.0 472.3 L1827.8 496.9 L1828.7 521.7 L1829.5 545.7 L1830.4 509.7 L1831.3 472.4 L1832.1 517.3 L1833.0 465.0 L1833.9 497.4 L1834.9 491.0 L1835.8 556.3 L1836.8 528.6 L1837.7 501.6 L1838.6 541.0 L1839.6 499.4 L1840.5 575.0 L1841.5 503.2 L1842.4 512.9 L1843.4 555.2 L1844.3 488.1 L1845.3 496.1 L1846.2 486.6 L1847.2 465.0 L1852.0 446.0 L1850.0 415.5 L1852.0 394.6 L1854.8 343.3 L1859.5 370.0 L1864.3 312.0" fill="none" stroke="#E01A59" stroke-width="4" stroke-linejoin="round"/>
<path d="M257.5 450.3h0 M258.4 474.1h0 M259.4 475.5h0 M260.3 466.3h0 M261.3 457.8h0 M262.2 466.6h0 M263.1 479.4h0 M264.1 474.3h0 M265.0 489.7h0 M266.0 484.2h0 M266.9 432.2h0 M267.8 476.4h0 M268.8 464.5h0 M269.7 454.2h0 M270.6 378.4h0 M271.6 366.8h0 M272.5 409.0h0 M273.5 350.4h0 M274.4 345.2h0 M275.3 297.3h0 M276.3 277.6h0 M277.2 283.3h0 M278.2 269.3h0 M279.1 282.9h0 M280.0 295.1h0 M281.0 279.4h0 M281.9 257.0h0 M282.8 283.2h0 M283.8 282.4h0 M284.7 266.4h0 M285.7 292.6h0 M286.6 289.1h0 M287.5 360.2h0 M288.5 322.3h0 M289.4 300.1h0 M290.4 336.7h0 M291.3 292.6h0 M292.2 326.1h0 M293.2 344.2h0 M294.1 376.3h0 M295.0 356.7h0 M296.0 395.9h0 M296.9 435.3h0 M297.9 359.3h0 M298.8 371.3h0 M299.7 414.7h0 M300.7 333.1h0 M301.6 371.4h0 M302.6 292.6h0 M303.5 386.8h0 M304.4 317.4h0 M305.4 324.4h0 M306.3 325.8h0 M307.2 334.7h0 M308.2 395.8h0 M309.1 319.1h0 M310.1 368.0h0 M311.0 367.3h0 M311.9 332.0h0 M312.9 302.9h0 M313.8 337.7h0 M314.8 352.1h0 M315.7 370.6h0 M316.6 379.3h0 M317.6 409.5h0 M318.5 362.6h0 M319.4 395.6h0 M320.4 371.1h0 M321.3 326.4h0 M322.3 362.5h0 M323.2 408.1h0 M324.1 376.9h0 M325.1 367.9h0 M326.0 449.6h0 M327.0 439.0h0 M327.9 365.1h0 M328.8 451.7h0 M329.8 458.7h0 M330.7 462.0h0 M331.6 460.8h0 M332.6 447.3h0 M333.5 440.7h0 M334.5 470.9h0 M335.4 301.1h0 M336.3 372.1h0 M337.3 388.5h0 M338.2 345.2h0 M339.2 375.4h0 M340.1 286.0h0 M341.0 328.0h0 M342.0 282.8h0 M342.9 265.7h0 M343.8 293.4h0 M344.8 324.3h0 M345.7 257.0h0 M346.7 283.3h0 M347.6 318.3h0 M348.5 353.9h0 M349.5 360.2h0 M350.4 354.4h0 M351.4 315.0h0 M352.3 331.8h0 M353.2 325.4h0 M354.2 288.1h0 M355.1 317.9h0 M356.0 348.5h0 M357.0 285.1h0 M357.9 344.6h0 M358.9 290.6h0 M359.8 312.9h0 M360.7 362.7h0 M361.7 371.1h0 M362.6 401.5h0 M363.6 394.4h0 M364.5 341.0h0 M365.4 342.3h0 M366.4 346.0h0 M367.3 314.6h0 M368.2 297.7h0 M369.2 308.5h0 M370.1 273.8h0 M371.1 305.3h0 M372.0 334.1h0 M372.9 366.1h0 M373.9 366.4h0 M374.8 389.0h0 M375.8 419.9h0 M376.7 446.1h0 M377.6 457.8h0 M378.6 428.3h0 M379.5 412.9h0 M380.4 411.9h0 M381.4 328.3h0 M382.3 346.3h0 M383.3 307.6h0 M384.1 321.8h0 M385.0 282.9h0 M385.9 318.4h0 M386.7 332.7h0 M387.6 327.4h0 M388.5 316.1h0 M389.3 276.9h0 M390.2 261.5h0 M391.1 271.2h0 M391.9 287.8h0 M392.8 278.0h0 M393.7 291.2h0 M394.5 253.2h0 M395.5 317.8h0 M396.4 343.0h0 M397.3 289.2h0 M398.3 270.4h0 M399.2 292.4h0 M400.2 303.9h0 M401.1 320.6h0 M402.0 348.9h0 M403.0 292.4h0 M403.9 397.7h0 M404.8 387.8h0 M405.8 347.6h0 M406.7 376.7h0 M407.7 404.3h0 M408.6 394.6h0 M409.5 374.8h0 M410.5 420.0h0 M411.4 435.3h0 M412.3 399.9h0 M413.2 403.7h0 M414.1 392.6h0 M415.0 406.2h0 M415.9 309.5h0 M416.9 361.0h0 M417.8 322.3h0 M418.7 405.3h0 M419.7 439.0h0 M420.8 572.3h0 M421.9 647.3h0 M423.4 784.4h0 M425.7 846.3h0 M429.4 925.1h0 M433.2 895.1h0 M432.1 701.8h0 M432.8 592.9h0 M433.9 425.9h0 M436.6 268.2h0 M441.4 270.1h0 M443.3 467.2h0 M454.6 467.2h0 M455.5 420.8h0 M456.5 389.5h0 M457.4 389.4h0 M458.3 367.7h0 M459.3 370.2h0 M460.2 360.0h0 M461.1 349.9h0 M462.1 372.5h0 M463.0 389.6h0 M464.0 439.1h0 M464.9 410.7h0 M465.8 372.1h0 M466.8 331.1h0 M467.7 322.6h0 M468.7 364.1h0 M469.6 370.0h0 M470.5 402.8h0 M471.5 358.2h0 M472.4 379.0h0 M473.3 444.6h0 M474.3 387.9h0 M475.2 383.6h0 M476.1 400.3h0 M477.0 368.4h0 M477.9 329.3h0 M478.9 400.9h0 M479.8 332.3h0 M480.7 339.9h0 M481.6 300.1h0 M482.5 318.7h0 M483.3 402.8h0 M484.2 365.8h0 M485.1 342.8h0 M485.9 379.1h0 M486.8 414.4h0 M487.7 391.7h0 M488.5 409.9h0 M489.4 386.0h0 M490.2 420.2h0 M491.2 330.4h0 M492.1 373.4h0 M493.1 381.7h0 M494.0 373.2h0 M494.9 375.6h0 M495.9 395.0h0 M496.8 371.5h0 M497.7 356.4h0 M498.6 399.0h0 M499.5 427.8h0 M500.3 387.6h0 M501.2 367.0h0 M502.1 392.2h0 M502.9 424.7h0 M503.8 409.3h0 M504.7 387.5h0 M505.5 407.5h0 M506.4 436.4h0 M507.3 400.6h0 M508.1 428.0h0 M509.0 450.3h0 M509.9 387.3h0 M510.7 404.5h0 M511.6 371.5h0 M512.5 407.2h0 M513.3 381.3h0 M514.2 403.2h0 M515.1 435.9h0 M515.9 400.9h0 M516.8 391.6h0 M517.7 386.3h0 M518.5 382.8h0 M519.4 353.0h0 M520.3 363.9h0 M521.2 344.9h0 M522.1 338.3h0 M523.1 351.5h0 M524.0 338.9h0 M525.0 336.0h0 M525.9 356.7h0 M526.8 390.9h0 M527.8 322.6h0 M528.7 387.0h0 M529.7 429.2h0 M530.6 344.0h0 M531.5 338.0h0 M532.5 404.6h0 M533.4 367.8h0 M534.3 416.0h0 M535.3 419.2h0 M536.2 413.5h0 M537.2 457.8h0 M538.1 410.8h0 M539.0 423.6h0 M540.0 425.8h0 M540.9 387.0h0 M541.9 412.0h0 M542.8 368.4h0 M543.7 422.4h0 M544.7 323.4h0 M545.6 346.1h0 M546.5 322.6h0 M547.5 368.0h0 M548.4 379.3h0 M549.4 428.1h0 M550.3 457.8h0 M551.2 425.1h0 M552.1 402.6h0 M553.0 332.1h0 M553.9 420.7h0 M554.8 290.7h0 M555.6 336.2h0 M556.5 367.1h0 M557.3 337.4h0 M558.2 350.8h0 M559.0 441.6h0 M559.9 349.2h0 M560.7 434.5h0 M561.6 439.0h0 M562.5 354.3h0 M563.4 317.4h0 M564.4 399.8h0 M565.3 385.9h0 M566.3 346.1h0 M567.2 360.8h0 M568.1 345.7h0 M569.1 315.1h0 M570.0 323.4h0 M570.9 339.0h0 M571.9 380.0h0 M572.8 313.1h0 M573.8 313.6h0 M574.7 313.3h0 M575.6 314.0h0 M576.6 311.4h0 M577.4 357.0h0 M578.3 348.1h0 M579.2 343.1h0 M580.0 356.2h0 M580.9 376.9h0 M581.8 384.1h0 M582.6 367.8h0 M583.5 424.2h0 M584.4 436.9h0 M585.2 360.5h0 M586.1 407.5h0 M587.0 392.8h0 M587.8 459.7h0 M588.8 413.1h0 M589.7 436.0h0 M590.7 416.6h0 M591.6 382.9h0 M592.5 349.5h0 M593.5 426.1h0 M594.4 377.5h0 M595.3 330.2h0 M596.3 357.2h0 M597.2 427.2h0 M598.2 420.3h0 M599.1 401.8h0 M600.0 363.1h0 M601.0 408.9h0 M601.9 348.1h0 M602.9 402.3h0 M603.8 434.8h0 M604.7 448.4h0 M605.6 366.6h0 M606.5 415.4h0 M607.3 411.8h0 M608.2 385.5h0 M609.0 371.6h0 M609.9 354.1h0 M610.8 354.1h0 M611.6 295.2h0 M612.5 343.0h0 M613.4 278.3h0 M614.3 325.0h0 M615.2 322.0h0 M616.1 289.2h0 M617.0 301.9h0 M617.9 301.9h0 M618.8 311.9h0 M619.7 311.4h0 M620.7 330.5h0 M621.6 319.9h0 M622.6 393.5h0 M623.5 435.6h0 M624.4 440.2h0 M625.4 450.3h0 M626.3 450.9h0 M627.3 476.3h0 M628.2 440.3h0 M629.1 418.7h0 M630.1 483.7h0 M631.0 460.4h0 M631.9 449.1h0 M632.9 500.9h0 M633.8 463.3h0 M634.8 462.7h0 M635.7 436.7h0 M636.6 389.5h0 M637.6 390.1h0 M638.5 411.0h0 M639.5 392.7h0 M640.4 360.2h0 M641.3 361.7h0 M642.2 397.2h0 M643.1 370.1h0 M643.9 344.5h0 M644.8 332.0h0 M645.7 346.6h0 M646.6 336.9h0 M647.5 330.2h0 M648.4 330.4h0 M649.4 353.2h0 M650.3 341.0h0 M651.3 330.8h0 M652.2 430.6h0 M653.1 324.5h0 M654.1 413.7h0 M655.0 328.6h0 M656.0 356.3h0 M656.9 400.8h0 M657.8 382.8h0 M658.8 400.2h0 M659.7 414.9h0 M660.6 401.6h0 M661.6 376.4h0 M662.5 452.1h0 M663.5 447.7h0 M664.4 323.5h0 M665.3 405.4h0 M666.3 404.3h0 M667.2 369.1h0 M668.2 366.1h0 M669.1 371.0h0 M670.0 334.1h0 M671.0 319.6h0 M671.9 300.1h0 M672.8 346.0h0 M673.8 323.0h0 M674.7 309.8h0 M675.7 312.1h0 M676.6 300.8h0 M677.5 337.7h0 M678.5 289.7h0 M679.4 290.1h0 M680.4 306.8h0 M681.3 307.7h0 M682.2 330.1h0 M683.2 384.4h0 M684.1 320.3h0 M685.0 273.8h0 M686.0 370.8h0 M686.9 279.5h0 M687.9 366.1h0 M688.8 417.9h0 M689.7 377.4h0 M690.7 461.5h0 M691.6 393.6h0 M692.6 403.3h0 M693.5 403.2h0 M694.4 366.9h0 M695.4 396.8h0 M696.3 390.2h0 M697.2 388.6h0 M698.2 377.5h0 M699.1 388.4h0 M700.1 330.2h0 M701.0 360.4h0 M701.9 314.7h0 M702.9 300.9h0 M703.8 296.7h0 M704.8 307.5h0 M705.7 316.7h0 M706.6 341.6h0 M707.6 292.6h0 M708.5 311.8h0 M709.4 307.4h0 M710.4 327.3h0 M711.3 318.6h0 M712.3 374.6h0 M713.2 376.4h0 M714.1 375.4h0 M715.1 390.2h0 M716.0 360.2h0 M717.0 365.3h0 M717.9 374.5h0 M718.8 325.4h0 M719.8 364.0h0 M720.7 396.6h0 M721.6 399.2h0 M722.6 311.4h0 M723.5 350.8h0 M724.5 368.1h0 M725.4 383.4h0 M726.3 364.5h0 M727.3 429.1h0 M728.2 457.8h0 M729.2 439.9h0 M730.1 447.9h0 M731.0 418.7h0 M732.0 372.3h0 M732.9 337.4h0 M733.8 350.9h0 M734.8 323.9h0 M735.7 330.2h0 M736.7 289.3h0 M737.6 311.7h0 M738.5 292.9h0 M739.5 303.3h0 M740.4 308.3h0 M741.4 285.1h0 M742.3 388.5h0 M743.2 321.3h0 M744.2 329.4h0 M745.1 293.3h0 M746.0 376.7h0 M747.0 327.0h0 M747.9 387.0h0 M748.9 409.0h0 M749.8 428.2h0 M750.7 329.8h0 M751.6 397.9h0 M752.4 422.6h0 M753.3 430.0h0 M754.2 428.0h0 M755.1 425.9h0 M756.0 414.7h0 M756.9 426.7h0 M757.8 421.9h0 M758.7 424.1h0 M759.6 423.1h0 M760.5 418.5h0 M761.4 426.7h0 M762.3 418.7h0 M763.2 428.4h0 M764.1 428.4h0 M765.0 430.1h0 M765.9 426.0h0 M766.8 411.8h0 M767.7 425.8h0 M768.6 373.7h0 M769.5 435.3h0 M770.4 371.3h0 M771.4 408.2h0 M772.3 373.5h0 M773.3 392.3h0 M774.2 381.7h0 M775.1 359.2h0 M776.1 354.1h0 M777.0 328.3h0 M777.9 456.7h0 M778.8 374.0h0 M779.7 420.2h0 M780.7 400.0h0 M781.6 440.9h0 M782.5 412.5h0 M783.4 487.8h0 M784.3 451.0h0 M785.1 475.4h0 M786.0 405.8h0 M786.8 413.5h0 M787.7 379.6h0 M788.6 400.4h0 M789.4 378.6h0 M790.3 370.1h0 M791.2 441.7h0 M792.0 345.2h0 M793.0 371.5h0 M793.9 459.1h0 M794.8 394.1h0 M795.8 403.3h0 M796.7 373.4h0 M797.7 372.1h0 M798.6 365.1h0 M799.5 412.7h0 M800.5 394.0h0 M801.4 370.2h0 M802.3 403.3h0 M803.3 337.4h0 M804.2 347.7h0 M805.2 332.0h0 M806.1 323.4h0 M807.0 290.7h0 M808.0 343.6h0 M808.9 318.5h0 M809.9 374.0h0 M810.8 449.6h0 M811.7 442.0h0 M812.7 432.2h0 M813.6 469.1h0 M814.5 480.3h0 M815.5 331.2h0 M816.4 446.7h0 M817.4 451.6h0 M818.3 428.9h0 M819.2 437.2h0 M820.2 437.2h0 M821.1 361.0h0 M822.1 416.3h0 M823.0 377.3h0 M823.9 347.9h0 M825.2 458.0h0 M826.1 439.4h0 M827.0 370.2h0 M827.9 447.1h0 M828.7 375.3h0 M829.6 420.1h0 M830.5 463.3h0 M831.4 452.3h0 M832.2 456.8h0 M833.1 417.2h0 M834.0 420.1h0 M834.9 435.5h0 M835.7 403.0h0 M836.6 375.7h0 M837.5 420.4h0 M838.4 456.2h0 M839.2 382.8h0 M840.1 403.0h0 M841.0 393.2h0 M841.9 388.3h0 M842.7 368.9h0 M843.6 395.1h0 M844.5 375.4h0 M845.4 356.3h0 M846.2 337.4h0 M846.2 337.4h0 M848.0 309.2h0 M850.2 281.0h0 M852.8 308.5h0 M854.3 338.7h0 M854.1 368.9h0 M859.3 397.7h0 M860.7 431.8h0 M860.7 465.9h0 M861.4 500.0h0 M860.7 534.1h0 M863.6 566.9h0 M864.6 599.7h0 M865.1 625.9h0 M866.7 652.1h0 M869.8 625.9h0 M871.0 593.1h0 M873.8 560.3h0 M873.7 534.1h0 M875.1 507.9h0 M875.6 484.3h0 M876.4 468.5h0 M879.0 431.8h0 M877.7 410.8h0 M883.0 375.4h0 M883.7 342.0h0 M884.3 308.5h0 M885.9 276.4h0 M886.9 244.3h0 M888.7 268.5h0 M888.7 292.8h0 M890.0 334.1h0 M890.3 375.4h0 M896.1 410.8h0 M898.7 389.8h0 M899.6 414.8h0 M900.0 439.7h0 M902.2 471.1h0 M903.4 502.6h0 M904.2 527.5h0 M905.2 552.5h0 M909.2 521.0h0 M910.6 555.1h0 M911.8 589.2h0 M910.5 632.5h0 M914.4 646.9h0 M911.8 675.7h0 M913.1 695.4h0 M914.8 654.1h0 M918.4 612.8h0 M923.6 573.4h0 M925.5 540.7h0 M926.2 507.9h0 M932.8 468.5h0 M935.4 505.2h0 M933.3 532.8h0 M935.1 563.6h0 M938.0 594.4h0 M942.0 618.0h0 M938.6 662.6h0 M941.8 625.9h0 M943.3 589.2h0 M946.2 559.0h0 M948.5 528.9h0 M952.5 515.7h0 M954.0 544.6h0 M956.4 573.4h0 M955.0 614.1h0 M955.1 654.8h0 M956.4 675.7h0 M957.2 698.7h0 M959.0 721.6h0 M961.3 680.3h0 M963.0 639.0h0 M964.3 618.0h0 M965.6 581.3h0 M968.2 564.3h0 M969.0 534.8h0 M969.0 505.2h0 M969.1 475.7h0 M970.8 446.2h0 M972.1 403.0h0 M972.7 376.7h0 M974.2 347.9h0 M974.2 347.9h0 M975.3 403.7h0 M976.3 409.0h0 M977.4 416.1h0 M978.4 392.9h0 M979.3 406.5h0 M980.3 333.7h0 M981.3 426.6h0 M982.2 356.2h0 M983.1 382.6h0 M983.9 337.4h0 M984.9 350.7h0 M985.9 352.3h0 M986.9 345.6h0 M987.9 316.4h0 M988.7 316.9h0 M989.6 390.9h0 M990.5 328.0h0 M991.4 385.1h0 M992.2 359.2h0 M993.1 403.2h0 M994.0 329.5h0 M994.9 335.2h0 M995.7 308.5h0 M996.6 404.9h0 M997.5 358.8h0 M998.4 361.1h0 M999.2 406.5h0 M1000.1 365.1h0 M1001.0 379.3h0 M1002.3 462.0h0 M1003.2 414.5h0 M1004.0 360.9h0 M1004.9 417.8h0 M1005.8 416.4h0 M1006.7 422.9h0 M1007.5 389.8h0 M1008.5 369.5h0 M1009.5 320.9h0 M1010.5 357.5h0 M1011.5 302.0h0 M1012.5 306.9h0 M1013.4 341.0h0 M1014.4 367.9h0 M1015.4 363.6h0 M1016.3 370.1h0 M1017.2 475.8h0 M1018.0 498.7h0 M1018.9 385.7h0 M1019.8 462.3h0 M1020.7 470.8h0 M1021.5 351.0h0 M1022.4 431.1h0 M1023.3 405.6h0 M1024.3 417.5h0 M1025.2 372.4h0 M1026.2 471.0h0 M1027.2 439.7h0 M1028.1 464.3h0 M1029.0 383.8h0 M1030.0 474.2h0 M1030.9 392.0h0 M1031.8 372.3h0 M1032.7 386.7h0 M1033.6 403.9h0 M1034.6 346.6h0 M1035.4 356.5h0 M1036.3 448.8h0 M1037.2 443.5h0 M1038.1 443.1h0 M1039.0 493.4h0 M1040.0 402.7h0 M1040.9 472.4h0 M1041.8 462.3h0 M1042.8 444.0h0 M1043.7 465.6h0 M1044.6 441.9h0 M1045.6 416.1h0 M1046.5 402.4h0 M1047.5 417.1h0 M1048.4 383.2h0 M1049.4 464.7h0 M1050.3 368.9h0 M1051.2 438.5h0 M1052.1 412.1h0 M1053.0 450.7h0 M1053.9 444.2h0 M1054.8 498.7h0 M1055.8 471.9h0 M1056.9 500.9h0 M1057.8 496.9h0 M1058.8 469.7h0 M1059.7 489.0h0 M1060.6 450.5h0 M1061.6 449.9h0 M1062.5 369.1h0 M1063.5 410.1h0 M1064.4 390.4h0 M1065.3 436.5h0 M1066.3 360.2h0 M1067.2 413.8h0 M1068.1 413.5h0 M1069.0 493.2h0 M1069.9 493.2h0 M1070.8 499.1h0 M1071.7 449.5h0 M1072.7 422.0h0 M1073.6 473.9h0 M1074.5 348.6h0 M1075.5 317.0h0 M1076.4 299.4h0 M1077.4 306.1h0 M1078.4 367.9h0 M1079.3 386.2h0 M1080.3 349.2h0 M1081.3 360.2h0 M1082.2 413.3h0 M1083.2 371.4h0 M1084.1 415.2h0 M1085.0 422.9h0 M1086.0 445.0h0 M1086.9 457.8h0 M1087.8 458.6h0 M1088.7 399.3h0 M1089.5 453.8h0 M1090.4 432.1h0 M1091.3 456.2h0 M1092.2 440.3h0 M1093.1 474.1h0 M1093.9 475.6h0 M1094.8 466.3h0 M1095.7 473.5h0 M1096.6 462.4h0 M1097.4 465.1h0 M1098.3 462.2h0 M1099.2 376.4h0 M1100.1 480.3h0 M1101.0 471.6h0 M1101.9 453.8h0 M1102.9 422.5h0 M1103.8 412.3h0 M1104.8 409.3h0 M1105.7 409.0h0 M1106.6 383.4h0 M1107.6 338.5h0 M1108.5 365.7h0 M1109.4 313.3h0 M1110.4 417.1h0 M1111.3 354.7h0 M1112.3 343.5h0 M1113.2 351.4h0 M1114.1 335.3h0 M1115.1 375.2h0 M1116.0 425.3h0 M1116.9 369.5h0 M1117.8 394.6h0 M1118.8 415.3h0 M1119.7 407.2h0 M1120.6 437.9h0 M1121.5 470.5h0 M1122.5 493.9h0 M1123.4 450.2h0 M1124.3 465.2h0 M1125.2 475.8h0 M1126.2 478.2h0 M1127.1 510.3h0 M1128.0 487.1h0 M1128.8 481.6h0 M1129.7 402.9h0 M1130.5 435.4h0 M1131.4 398.4h0 M1132.3 322.2h0 M1133.1 363.5h0 M1134.0 368.4h0 M1134.9 327.7h0 M1135.7 288.1h0 M1136.7 298.5h0 M1137.6 331.7h0 M1138.5 361.5h0 M1139.5 421.0h0 M1140.4 300.7h0 M1141.4 375.2h0 M1142.3 355.2h0 M1143.2 362.5h0 M1144.2 462.1h0 M1145.1 411.3h0 M1146.0 455.2h0 M1147.0 475.0h0 M1147.9 405.7h0 M1148.9 491.6h0 M1149.7 443.1h0 M1150.6 410.4h0 M1151.5 478.6h0 M1152.3 409.3h0 M1153.2 488.6h0 M1154.1 486.2h0 M1154.9 488.7h0 M1155.8 486.2h0 M1156.7 478.7h0 M1157.5 425.3h0 M1158.4 474.9h0 M1159.3 481.4h0 M1160.1 484.1h0 M1161.0 382.5h0 M1161.8 447.3h0 M1162.7 393.7h0 M1163.5 364.8h0 M1164.3 371.4h0 M1165.2 359.8h0 M1166.0 272.2h0 M1166.9 265.6h0 M1167.8 306.7h0 M1168.7 295.2h0 M1169.6 418.8h0 M1170.5 362.5h0 M1171.4 405.2h0 M1172.3 321.4h0 M1173.2 351.7h0 M1174.1 383.9h0 M1175.1 388.9h0 M1176.0 416.1h0 M1176.9 397.4h0 M1177.8 379.3h0 M1178.7 463.1h0 M1179.6 397.7h0 M1180.5 417.9h0 M1181.3 474.3h0 M1182.2 476.8h0 M1183.0 493.8h0 M1183.9 464.5h0 M1184.7 507.4h0 M1185.6 527.0h0 M1186.4 540.4h0 M1187.3 505.3h0 M1188.3 538.0h0 M1189.2 568.2h0 M1190.2 555.9h0 M1191.1 547.7h0 M1192.0 574.1h0 M1193.0 532.2h0 M1193.9 513.5h0 M1194.8 508.0h0 M1195.8 479.0h0 M1196.7 500.3h0 M1197.7 442.8h0 M1198.6 426.1h0 M1199.5 377.1h0 M1200.5 530.9h0 M1201.4 324.5h0 M1202.3 346.8h0 M1203.3 367.8h0 M1204.2 396.5h0 M1205.2 477.4h0 M1206.1 391.3h0 M1207.0 439.0h0 M1208.0 441.3h0 M1208.9 464.5h0 M1209.9 502.2h0 M1210.8 474.5h0 M1211.7 478.7h0 M1212.7 488.6h0 M1213.6 463.6h0 M1214.5 536.6h0 M1215.5 477.0h0 M1216.4 460.7h0 M1217.4 458.7h0 M1218.3 500.6h0 M1219.2 513.8h0 M1220.2 444.2h0 M1221.1 459.7h0 M1222.1 468.7h0 M1223.0 457.8h0 M1223.9 431.5h0 M1224.8 455.1h0 M1225.7 503.3h0 M1226.6 464.9h0 M1227.4 467.2h0 M1228.3 494.5h0 M1229.2 484.8h0 M1230.1 477.8h0 M1230.9 497.4h0 M1231.8 512.7h0 M1232.7 523.2h0 M1233.6 517.9h0 M1234.4 563.6h0 M1235.4 472.1h0 M1236.3 504.5h0 M1237.3 474.0h0 M1238.2 474.6h0 M1239.1 462.4h0 M1240.1 413.7h0 M1241.0 449.9h0 M1242.0 397.7h0 M1242.9 414.3h0 M1243.8 475.8h0 M1244.7 448.5h0 M1245.6 476.8h0 M1246.5 470.5h0 M1247.5 480.1h0 M1248.4 470.5h0 M1249.3 500.0h0 M1250.2 506.6h0 M1251.1 464.8h0 M1252.1 417.2h0 M1253.0 473.7h0 M1254.0 464.1h0 M1254.9 459.9h0 M1255.8 405.3h0 M1256.8 438.8h0 M1257.7 439.8h0 M1258.7 403.0h0 M1259.6 424.0h0 M1260.4 419.9h0 M1261.3 417.2h0 M1262.1 408.9h0 M1263.0 459.2h0 M1263.8 405.9h0 M1264.7 411.5h0 M1265.5 485.6h0 M1266.4 397.0h0 M1267.3 480.7h0 M1268.2 431.0h0 M1269.1 469.2h0 M1270.0 503.0h0 M1270.9 482.6h0 M1271.8 483.0h0 M1272.7 502.8h0 M1273.7 488.5h0 M1274.6 574.5h0 M1275.5 584.0h0 M1276.5 465.1h0 M1277.4 587.1h0 M1278.4 595.9h0 M1279.3 548.8h0 M1280.2 464.9h0 M1281.2 499.6h0 M1282.1 474.9h0 M1283.1 459.6h0 M1284.0 405.2h0 M1284.9 371.3h0 M1285.8 388.9h0 M1286.7 400.8h0 M1287.6 379.0h0 M1288.5 366.9h0 M1289.5 417.9h0 M1290.5 409.7h0 M1291.4 422.4h0 M1292.4 410.5h0 M1293.4 435.3h0 M1294.3 452.3h0 M1295.2 448.5h0 M1296.1 434.9h0 M1297.0 482.5h0 M1298.0 465.7h0 M1298.9 470.9h0 M1299.8 477.8h0 M1300.7 516.1h0 M1301.6 559.9h0 M1302.5 508.9h0 M1303.4 488.3h0 M1304.2 533.9h0 M1305.1 493.6h0 M1306.0 544.4h0 M1306.8 491.8h0 M1307.7 450.6h0 M1308.5 511.5h0 M1309.4 443.7h0 M1310.3 450.3h0 M1311.2 453.2h0 M1312.1 442.4h0 M1313.1 444.1h0 M1314.0 434.3h0 M1315.0 446.6h0 M1315.9 427.7h0 M1316.8 470.0h0 M1317.7 445.1h0 M1318.5 467.3h0 M1319.4 461.9h0 M1320.3 442.1h0 M1321.2 452.3h0 M1322.0 455.5h0 M1322.9 483.7h0 M1323.8 502.7h0 M1324.7 446.7h0 M1325.5 433.6h0 M1326.4 519.8h0 M1327.3 513.6h0 M1328.2 480.4h0 M1329.0 542.2h0 M1329.9 507.6h0 M1330.7 496.5h0 M1331.6 465.5h0 M1332.4 448.3h0 M1333.3 501.4h0 M1334.1 490.0h0 M1335.0 420.4h0 M1335.8 402.2h0 M1336.7 449.9h0 M1337.6 498.7h0 M1338.5 518.3h0 M1339.4 560.9h0 M1340.3 555.4h0 M1341.2 544.7h0 M1342.2 609.8h0 M1343.1 579.1h0 M1344.1 600.4h0 M1345.0 515.1h0 M1345.9 566.9h0 M1346.9 526.9h0 M1347.8 575.7h0 M1348.7 565.0h0 M1349.7 517.8h0 M1350.6 537.1h0 M1351.6 508.1h0 M1352.5 567.2h0 M1353.4 494.5h0 M1354.4 502.1h0 M1355.3 487.7h0 M1356.3 492.1h0 M1357.2 476.5h0 M1358.1 489.6h0 M1359.1 496.3h0 M1360.0 500.9h0 M1360.9 502.9h0 M1361.9 550.4h0 M1362.8 588.8h0 M1363.8 519.0h0 M1364.7 574.1h0 M1365.6 581.8h0 M1366.5 600.4h0 M1367.4 585.6h0 M1368.3 603.1h0 M1369.3 586.4h0 M1370.2 617.6h0 M1371.1 641.0h0 M1371.9 605.1h0 M1372.8 598.1h0 M1373.6 636.5h0 M1374.5 583.8h0 M1375.3 571.3h0 M1376.1 629.6h0 M1377.0 522.8h0 M1377.8 622.9h0 M1378.8 621.1h0 M1379.7 573.2h0 M1380.7 538.4h0 M1381.6 510.3h0 M1382.5 583.2h0 M1383.5 490.9h0 M1384.4 551.8h0 M1385.3 548.5h0 M1386.3 496.6h0 M1387.2 469.0h0 M1388.2 476.2h0 M1389.1 534.4h0 M1390.0 523.3h0 M1391.0 509.5h0 M1391.9 529.2h0 M1392.9 533.0h0 M1393.8 546.4h0 M1394.7 559.1h0 M1395.7 569.8h0 M1396.6 533.8h0 M1397.5 542.2h0 M1398.5 524.4h0 M1399.4 557.6h0 M1400.4 491.6h0 M1401.3 510.4h0 M1402.2 520.4h0 M1403.2 519.1h0 M1404.1 507.6h0 M1405.1 541.0h0 M1406.0 577.9h0 M1406.9 550.0h0 M1407.9 511.8h0 M1408.8 451.5h0 M1409.7 514.4h0 M1410.7 479.1h0 M1411.6 437.1h0 M1412.6 427.5h0 M1413.5 452.0h0 M1414.4 421.7h0 M1415.4 419.7h0 M1416.3 440.1h0 M1417.3 427.6h0 M1418.2 475.4h0 M1419.1 462.0h0 M1420.1 427.7h0 M1421.0 414.6h0 M1421.9 441.2h0 M1422.9 484.8h0 M1423.8 465.0h0 M1424.8 435.0h0 M1425.7 444.2h0 M1426.6 491.6h0 M1427.6 506.0h0 M1428.5 511.2h0 M1429.5 513.5h0 M1430.4 537.5h0 M1431.3 546.8h0 M1432.3 583.5h0 M1433.2 533.2h0 M1434.1 565.7h0 M1435.0 567.7h0 M1435.9 513.0h0 M1436.8 480.0h0 M1437.7 533.6h0 M1438.6 585.4h0 M1439.5 527.8h0 M1440.4 579.1h0 M1441.3 509.4h0 M1442.2 531.2h0 M1443.1 535.0h0 M1444.0 550.1h0 M1444.8 525.2h0 M1445.7 490.6h0 M1446.6 495.8h0 M1447.5 457.8h0 M1448.4 449.0h0 M1449.3 454.1h0 M1450.1 446.9h0 M1451.0 444.0h0 M1451.9 423.5h0 M1452.8 450.9h0 M1453.6 441.3h0 M1454.5 430.1h0 M1455.4 436.3h0 M1456.3 430.9h0 M1457.1 425.6h0 M1458.0 418.4h0 M1458.9 518.1h0 M1459.9 426.2h0 M1460.8 455.7h0 M1461.7 483.2h0 M1462.6 478.9h0 M1463.5 510.7h0 M1464.5 500.4h0 M1465.4 551.3h0 M1466.3 545.4h0 M1467.2 565.6h0 M1468.2 573.4h0 M1469.1 469.7h0 M1470.0 566.1h0 M1470.9 511.1h0 M1471.8 435.6h0 M1472.7 470.9h0 M1473.6 461.0h0 M1474.5 425.9h0 M1475.4 468.8h0 M1476.3 474.9h0 M1477.2 504.7h0 M1478.0 492.0h0 M1478.9 471.4h0 M1479.8 500.9h0 M1480.7 546.8h0 M1481.5 497.7h0 M1482.4 523.2h0 M1483.3 525.7h0 M1484.2 535.3h0 M1485.0 555.4h0 M1486.0 534.0h0 M1486.9 492.5h0 M1487.9 509.1h0 M1488.8 499.5h0 M1489.7 589.1h0 M1490.7 519.4h0 M1491.6 546.8h0 M1492.6 484.1h0 M1493.4 533.4h0 M1494.2 538.2h0 M1495.1 538.2h0 M1495.9 546.7h0 M1496.8 552.1h0 M1497.6 540.8h0 M1498.5 526.7h0 M1499.3 619.9h0 M1500.2 571.9h0 M1501.2 604.6h0 M1502.1 584.8h0 M1503.0 521.1h0 M1503.9 542.2h0 M1504.8 524.8h0 M1505.8 526.6h0 M1506.7 537.9h0 M1507.6 534.7h0 M1508.5 575.6h0 M1509.4 485.9h0 M1510.4 504.7h0 M1511.3 508.0h0 M1512.3 501.0h0 M1513.2 491.3h0 M1514.1 495.0h0 M1515.1 490.5h0 M1516.0 493.4h0 M1517.0 509.6h0 M1517.9 524.5h0 M1518.8 517.8h0 M1519.8 540.4h0 M1520.7 534.6h0 M1521.6 569.1h0 M1522.6 533.0h0 M1523.5 556.3h0 M1524.5 557.8h0 M1525.4 592.3h0 M1526.3 486.3h0 M1527.3 584.0h0 M1528.2 599.7h0 M1529.2 588.9h0 M1530.1 547.9h0 M1531.0 462.5h0 M1532.0 559.9h0 M1532.9 491.9h0 M1533.8 454.0h0 M1534.8 395.9h0 M1535.7 413.3h0 M1536.7 428.1h0 M1537.6 399.7h0 M1538.5 449.3h0 M1539.5 386.5h0 M1540.4 398.0h0 M1541.4 426.6h0 M1542.3 396.3h0 M1543.2 453.2h0 M1544.2 431.6h0 M1545.1 491.6h0 M1546.0 503.1h0 M1547.0 498.7h0 M1547.9 530.3h0 M1548.9 513.8h0 M1549.8 531.2h0 M1550.7 557.7h0 M1551.7 507.6h0 M1552.6 549.2h0 M1553.6 552.9h0 M1554.5 607.9h0 M1555.4 567.8h0 M1556.4 576.0h0 M1557.3 533.9h0 M1558.2 462.6h0 M1559.2 509.4h0 M1560.1 565.1h0 M1561.1 518.0h0 M1562.0 439.0h0 M1562.9 479.6h0 M1563.7 424.3h0 M1564.6 421.2h0 M1565.5 536.6h0 M1566.3 424.9h0 M1567.2 423.1h0 M1568.1 420.7h0 M1568.9 426.0h0 M1569.8 483.3h0 M1570.7 430.3h0 M1571.5 449.7h0 M1572.4 412.4h0 M1573.3 404.5h0 M1574.2 452.9h0 M1575.1 437.3h0 M1576.1 440.0h0 M1577.0 436.5h0 M1578.0 461.2h0 M1578.9 492.4h0 M1579.8 420.7h0 M1580.8 502.8h0 M1581.7 496.4h0 M1582.6 515.8h0 M1583.6 491.4h0 M1584.5 515.2h0 M1585.5 532.1h0 M1586.4 511.6h0 M1587.3 517.9h0 M1588.3 518.1h0 M1589.2 538.2h0 M1590.2 576.0h0 M1591.1 554.7h0 M1592.0 561.3h0 M1593.0 518.0h0 M1593.9 495.5h0 M1594.8 462.9h0 M1595.8 474.5h0 M1596.7 554.0h0 M1597.7 439.0h0 M1598.6 444.3h0 M1599.5 470.4h0 M1600.5 469.3h0 M1601.4 515.5h0 M1602.3 528.3h0 M1603.3 511.4h0 M1604.2 479.7h0 M1605.2 470.4h0 M1606.1 541.7h0 M1607.0 555.4h0 M1608.0 508.8h0 M1608.9 457.3h0 M1609.9 489.1h0 M1610.8 494.5h0 M1611.7 439.0h0 M1612.7 453.5h0 M1613.6 447.5h0 M1614.5 414.6h0 M1615.4 421.0h0 M1616.3 481.9h0 M1617.2 430.2h0 M1618.1 407.6h0 M1618.9 403.5h0 M1619.8 403.4h0 M1620.7 395.9h0 M1621.6 398.2h0 M1622.4 390.4h0 M1623.3 404.4h0 M1624.2 382.0h0 M1625.1 411.4h0 M1625.9 379.1h0 M1626.8 408.7h0 M1627.7 374.4h0 M1628.6 395.1h0 M1629.6 416.1h0 M1630.5 429.5h0 M1631.4 429.7h0 M1632.4 474.3h0 M1633.3 518.7h0 M1634.3 481.6h0 M1635.2 532.9h0 M1636.1 468.9h0 M1637.1 514.5h0 M1638.0 504.4h0 M1638.9 520.7h0 M1639.9 528.8h0 M1640.8 521.6h0 M1641.8 528.8h0 M1642.7 520.2h0 M1643.6 515.5h0 M1644.6 517.8h0 M1645.5 469.5h0 M1646.5 489.0h0 M1647.4 507.6h0 M1648.3 496.2h0 M1649.3 483.8h0 M1650.2 470.0h0 M1651.1 500.0h0 M1652.1 508.0h0 M1653.0 451.6h0 M1654.0 439.0h0 M1654.8 419.0h0 M1655.7 428.5h0 M1656.6 425.8h0 M1657.5 429.9h0 M1658.4 414.4h0 M1659.3 411.2h0 M1660.2 427.6h0 M1661.0 423.1h0 M1661.9 416.0h0 M1662.8 416.0h0 M1663.7 428.2h0 M1664.6 449.6h0 M1665.5 428.2h0 M1666.4 404.5h0 M1667.3 454.4h0 M1668.2 427.4h0 M1669.1 438.3h0 M1670.0 443.9h0 M1670.9 475.2h0 M1671.9 439.2h0 M1672.8 437.0h0 M1673.7 471.6h0 M1674.6 499.1h0 M1675.5 451.4h0 M1676.5 476.8h0 M1677.4 505.8h0 M1678.4 505.8h0 M1679.3 506.1h0 M1680.2 508.1h0 M1681.2 504.8h0 M1682.1 504.6h0 M1683.1 506.4h0 M1684.0 510.3h0 M1684.9 508.0h0 M1685.8 533.5h0 M1686.8 522.8h0 M1687.7 531.6h0 M1688.6 528.0h0 M1689.5 532.4h0 M1690.5 524.0h0 M1691.4 521.3h0 M1692.3 532.8h0 M1693.2 520.8h0 M1694.2 488.7h0 M1695.1 509.8h0 M1696.0 541.1h0 M1696.9 523.7h0 M1697.7 507.2h0 M1698.6 532.2h0 M1699.5 486.6h0 M1700.3 526.2h0 M1701.2 442.8h0 M1702.0 454.1h0 M1702.9 445.8h0 M1703.8 491.5h0 M1704.6 435.3h0 M1705.5 455.8h0 M1706.4 435.9h0 M1707.3 425.0h0 M1708.2 421.7h0 M1709.1 491.2h0 M1710.0 503.9h0 M1710.9 474.0h0 M1711.8 481.4h0 M1712.6 430.2h0 M1713.5 478.3h0 M1714.4 418.5h0 M1715.3 405.6h0 M1716.2 392.1h0 M1717.1 385.1h0 M1718.0 442.9h0 M1719.0 496.0h0 M1719.9 536.1h0 M1720.8 459.4h0 M1721.7 498.0h0 M1722.6 479.1h0 M1723.5 515.2h0 M1724.4 433.6h0 M1725.3 448.4h0 M1726.2 450.0h0 M1727.1 437.7h0 M1727.9 466.5h0 M1728.8 412.4h0 M1729.7 443.6h0 M1730.6 392.7h0 M1731.5 456.1h0 M1732.4 396.2h0 M1733.3 374.2h0 M1734.2 359.5h0 M1735.1 408.8h0 M1736.1 392.5h0 M1737.0 492.2h0 M1738.0 482.6h0 M1738.9 533.3h0 M1739.8 457.6h0 M1740.6 492.2h0 M1741.5 443.4h0 M1742.4 413.7h0 M1743.2 412.2h0 M1744.1 402.2h0 M1745.0 425.8h0 M1745.9 422.0h0 M1746.8 434.7h0 M1747.6 470.4h0 M1748.5 488.0h0 M1749.4 433.0h0 M1750.3 516.2h0 M1751.2 508.4h0 M1752.0 510.6h0 M1752.9 486.1h0 M1753.7 490.5h0 M1754.6 459.1h0 M1755.5 509.0h0 M1756.3 457.7h0 M1757.2 445.6h0 M1758.0 482.9h0 M1758.9 425.0h0 M1759.9 447.4h0 M1760.8 471.2h0 M1761.8 488.1h0 M1762.7 452.8h0 M1763.6 448.4h0 M1764.6 537.0h0 M1765.5 482.7h0 M1766.5 472.4h0 M1767.4 454.9h0 M1768.4 471.4h0 M1769.3 474.1h0 M1770.3 487.5h0 M1771.2 425.0h0 M1772.2 432.1h0 M1773.1 465.5h0 M1774.0 478.4h0 M1775.0 463.4h0 M1776.0 468.5h0 M1776.9 553.8h0 M1777.8 561.2h0 M1778.8 566.5h0 M1779.8 548.3h0 M1780.7 516.8h0 M1781.7 541.1h0 M1782.6 476.5h0 M1783.6 513.9h0 M1784.5 481.8h0 M1785.5 455.4h0 M1786.5 443.4h0 M1787.4 474.3h0 M1788.3 498.3h0 M1789.3 507.4h0 M1790.2 547.6h0 M1791.2 556.0h0 M1792.1 502.9h0 M1793.1 478.5h0 M1794.0 445.2h0 M1795.0 517.3h0 M1795.9 427.0h0 M1796.9 451.1h0 M1797.8 495.4h0 M1798.8 437.6h0 M1799.7 442.2h0 M1800.7 464.3h0 M1801.6 509.9h0 M1802.6 493.4h0 M1803.5 475.4h0 M1804.3 462.2h0 M1805.2 482.4h0 M1806.1 451.3h0 M1806.9 456.9h0 M1807.8 482.5h0 M1808.7 435.8h0 M1809.5 432.9h0 M1810.4 478.6h0 M1811.3 446.7h0 M1812.1 437.0h0 M1813.0 427.0h0 M1813.9 435.2h0 M1814.8 479.8h0 M1815.6 526.5h0 M1816.5 441.4h0 M1817.4 535.5h0 M1818.2 506.4h0 M1819.1 525.1h0 M1820.0 457.2h0 M1820.9 502.2h0 M1821.8 524.0h0 M1822.6 508.2h0 M1823.5 556.0h0 M1824.4 503.9h0 M1825.2 484.1h0 M1826.1 516.9h0 M1827.0 472.3h0 M1827.8 496.9h0 M1828.7 521.7h0 M1829.5 545.7h0 M1830.4 509.7h0 M1831.3 472.4h0 M1832.1 517.3h0 M1833.0 465.0h0 M1833.9 497.4h0 M1834.9 491.0h0 M1835.8 556.3h0 M1836.8 528.6h0 M1837.7 501.6h0 M1838.6 541.0h0 M1839.6 499.4h0 M1840.5 575.0h0 M1841.5 503.2h0 M1842.4 512.9h0 M1843.4 555.2h0 M1844.3 488.1h0 M1845.3 496.1h0 M1846.2 486.6h0 M1847.2 465.0h0 M1852.0 446.0h0 M1850.0 415.5h0 M1852.0 394.6h0 M1854.8 343.3h0 M1859.5 370.0h0 M1864.3 312.0h0" fill="none" stroke="#E01A59" stroke-width="12" stroke-linecap="round" stroke-linejoin="round"/>
</g>
<text class="big" x="1044" y="97" font-size="103" text-anchor="middle" textLength="1452" lengthAdjust="spacingAndGlyphs">Sensor Values in Sitting Position</text>
<text x="203" y="201.3" font-size="50" text-anchor="end">9000</text>
<text x="203" y="291.5" font-size="50" text-anchor="end">8000</text>
<text x="203" y="381.8" font-size="50" text-anchor="end">7000</text>
<text x="203" y="472.0" font-size="50" text-anchor="end">6000</text>
<text x="203" y="562.2" font-size="50" text-anchor="end">5000</text>
<text x="203" y="652.5" font-size="50" text-anchor="end">4000</text>
<text x="203" y="742.7" font-size="50" text-anchor="end">3000</text>
<text x="203" y="832.9" font-size="50" text-anchor="end">2000</text>
<text x="203" y="923.2" font-size="50" text-anchor="end">1000</text>
<text x="203" y="1013.4" font-size="50" text-anchor="end">0</text>
<text x="1917" y="201.3" font-size="50">920</text>
<text x="1917" y="282.5" font-size="50">910</text>
<text x="1917" y="363.7" font-size="50">900</text>
<text x="1917" y="444.9" font-size="50">890</text>
<text x="1917" y="526.1" font-size="50">880</text>
<text x="1917" y="607.3" font-size="50">870</text>
<text x="1917" y="688.6" font-size="50">860</text>
<text x="1917" y="769.8" font-size="50">850</text>
<text x="1917" y="851.0" font-size="50">840</text>
<text x="1917" y="932.2" font-size="50">830</text>
<text x="1917" y="1013.4" font-size="50">820</text>
<text x="256.5" y="1096" font-size="53" text-anchor="middle">0</text>
<text x="524.3" y="1096" font-size="53" text-anchor="middle">20</text>
<text x="792.1" y="1096" font-size="53" text-anchor="middle">40</text>
<text x="1059.9" y="1096" font-size="53" text-anchor="middle">60</text>
<text x="1327.7" y="1096" font-size="53" text-anchor="middle">80</text>
<text x="1595.5" y="1096" font-size="53" text-anchor="middle">100</text>
<text x="1863.3" y="1096" font-size="53" text-anchor="middle">120</text>
<text transform="translate(61,591.5) rotate(-90)" font-size="58" text-anchor="middle">da (mm)</text>
<text transform="translate(2072,591.5) rotate(-90)" font-size="59" text-anchor="middle">db (mm)</text>
<text x="1058" y="1178.6" font-size="48" text-anchor="middle" textLength="185" lengthAdjust="spacingAndGlyphs" style="fill:#5c5c5c">Time (s)</text>
<line x1="1762.4" x2="1833" y1="1222.6" y2="1222.6" stroke="#4472C4" stroke-width="3"/><rect x="1793.5" y="1217.6" width="10" height="10" rx="3" fill="#4472C4"/>
<text x="1842" y="1240.5" font-size="58" textLength="58" lengthAdjust="spacingAndGlyphs">da</text>
<line x1="1930" x2="2002" y1="1221.5" y2="1221.5" stroke="#E01A59" stroke-width="6"/><circle cx="1966.2" cy="1221.5" r="6.5" fill="#E01A59"/>
<text x="2010.5" y="1240.5" font-size="58" textLength="61" lengthAdjust="spacingAndGlyphs">db</text>
<text class="ser" x="1045.7" y="1372.6" font-size="83" text-anchor="middle"><tspan class="par">(</tspan><tspan font-weight="bold">a</tspan><tspan class="par">)</tspan></text>
<g id="chartB" filter="url(#bl)">
<line x1="239.1" x2="1853.5" y1="1743.5" y2="1743.5" stroke="#E8E8E8" stroke-width="5.5"/>
<line x1="239.1" x2="1853.5" y1="1809.4" y2="1809.4" stroke="#E8E8E8" stroke-width="5.5"/>
<line x1="239.1" x2="1853.5" y1="1875.2" y2="1875.2" stroke="#E8E8E8" stroke-width="5.5"/>
<line x1="239.1" x2="1853.5" y1="1941.1" y2="1941.1" stroke="#E8E8E8" stroke-width="5.5"/>
<line x1="239.1" x2="1853.5" y1="2007.0" y2="2007.0" stroke="#E8E8E8" stroke-width="5.5"/>
<line x1="239.1" x2="1853.5" y1="2072.8" y2="2072.8" stroke="#E8E8E8" stroke-width="5.5"/>
<line x1="239.1" x2="1853.5" y1="2138.7" y2="2138.7" stroke="#E8E8E8" stroke-width="5.5"/>
<line x1="239.1" x2="1853.5" y1="2204.6" y2="2204.6" stroke="#E8E8E8" stroke-width="5.5"/>
<line x1="239.1" x2="1853.5" y1="2270.4" y2="2270.4" stroke="#E8E8E8" stroke-width="5.5"/>
<line x1="239.1" x2="1853.5" y1="2336.3" y2="2336.3" stroke="#E8E8E8" stroke-width="5.5"/>
<line x1="239.1" x2="239.1" y1="1743.5" y2="2338.8" stroke="#DCDCDC" stroke-width="5.3"/>
<line x1="463.3" x2="463.3" y1="1743.5" y2="2338.8" stroke="#E2E2E2" stroke-width="4"/>
<line x1="687.5" x2="687.5" y1="1743.5" y2="2338.8" stroke="#E2E2E2" stroke-width="4"/>
<line x1="911.7" x2="911.7" y1="1743.5" y2="2338.8" stroke="#E2E2E2" stroke-width="4"/>
<line x1="1135.9" x2="1135.9" y1="1743.5" y2="2338.8" stroke="#E2E2E2" stroke-width="4"/>
<line x1="1360.1" x2="1360.1" y1="1743.5" y2="2338.8" stroke="#E2E2E2" stroke-width="4"/>
<line x1="1584.3" x2="1584.3" y1="1743.5" y2="2338.8" stroke="#E2E2E2" stroke-width="4"/>
<line x1="1808.5" x2="1808.5" y1="1743.5" y2="2338.8" stroke="#E2E2E2" stroke-width="4"/>
<line x1="1853.5" x2="1853.5" y1="1743.5" y2="2336.3" stroke="#BFBFBF" stroke-width="3"/>
<line x1="239.1" x2="1870.5" y1="2336.3" y2="2336.3" stroke="#DADADA" stroke-width="5.3"/>
<line x1="1853.5" x2="1870.5" y1="1743.5" y2="1743.5" stroke="#CFCFCF" stroke-width="3"/>
<line x1="1853.5" x2="1870.5" y1="1842.3" y2="1842.3" stroke="#CFCFCF" stroke-width="3"/>
<line x1="1853.5" x2="1870.5" y1="1941.1" y2="1941.1" stroke="#CFCFCF" stroke-width="3"/>
<line x1="1853.5" x2="1870.5" y1="2039.9" y2="2039.9" stroke="#CFCFCF" stroke-width="3"/>
<line x1="1853.5" x2="1870.5" y1="2138.7" y2="2138.7" stroke="#CFCFCF" stroke-width="3"/>
<line x1="1853.5" x2="1870.5" y1="2237.5" y2="2237.5" stroke="#CFCFCF" stroke-width="3"/>
<line x1="1853.5" x2="1870.5" y1="2336.3" y2="2336.3" stroke="#CFCFCF" stroke-width="3"/>
<path d="M253.8 1814.2 L351.4 1814.2 L354.4 1922.9 L366.9 1922.9 L370.5 1814.2 L375.8 1814.2 L380.3 1920.5 L392.2 1920.5 L395.5 1814.2 L442.8 1814.2 L446.7 1923.5 L457.7 1923.5 L460.7 1814.2 L538.0 1814.2 L540.1 1944.9 L555.0 1944.9 L557.4 1814.2 L567.8 1814.2 L569.9 1948.8 L585.7 1948.8 L588.6 1814.2 L608.0 1814.2 L612.4 1924.9 L624.3 1924.9 L628.2 1814.2 L640.1 1814.2 L642.2 1950.2 L658.6 1950.2 L661.0 1814.2 L680.0 1814.2 L683.0 1941.9 L689.2 2068.7 L691.9 2193.7 L696.7 2320.8 L703.8 2314.8 L712.7 2310.4 L727.6 2308.9 L739.5 2311.8 L790.1 2311.8 L799.0 2313.9 L906.2 2313.9 L918.1 2311.8 L968.7 2311.8 L980.6 2308.9 L989.5 2312.7 L1025.2 2312.7 L1052.0 2307.4 L1102.6 2307.4 L1111.5 2310.4 L1180.0 2310.4 L1216.3 2310.4 L1219.3 2313.3 L1240.1 2311.8 L1243.1 2309.8 L1249.0 2311.8 L1308.6 2311.8 L1317.5 2314.8 L1326.4 2322.3 L1338.3 2328.8 L1341.9 2199.6 L1347.3 2070.2 L1351.7 1941.9 L1356.2 1814.2 L1381.5 1814.2 L1383.0 1916.0 L1388.9 2028.5 L1399.3 2028.5 L1400.2 1924.9 L1403.8 1814.2 L1429.1 1814.2 L1431.2 1814.2 L1432.1 1939.8 L1437.2 2067.2 L1441.7 2192.8 L1444.6 2192.8 L1446.1 2317.8 L1449.1 2192.8 L1453.6 2192.8 L1455.1 2063.3 L1459.5 1941.9 L1471.4 1941.9 L1474.4 2067.2 L1476.8 1941.9 L1479.2 2067.2 L1481.5 1941.9 L1483.9 2067.2 L1487.8 2067.2 L1489.3 2194.3 L1501.2 2195.8 L1504.2 2068.7 L1508.6 1941.9 L1528.0 1941.9 L1530.4 1814.2 L1532.7 1814.2 L1535.4 1941.9 L1542.9 2067.2 L1550.3 2067.2 L1554.8 1941.9 L1562.2 1814.2 L1578.6 1814.2 L1581.5 1941.9 L1586.0 2067.2 L1590.5 2194.3 L1593.5 2068.7 L1595.8 2195.8 L1598.8 2068.7 L1601.2 2197.3 L1604.2 2063.3 L1608.3 2063.3 L1611.9 2194.3 L1617.3 2192.8 L1621.7 2067.2 L1626.2 2067.2 L1630.7 1941.9 L1638.1 1941.9 L1641.7 2067.2 L1647.0 2067.2 L1651.5 1941.9 L1664.9 1941.9 L1669.3 2067.2 L1673.8 2191.3 L1679.8 2191.3 L1684.2 2316.3 L1687.2 2191.3 L1693.2 2192.2 L1696.1 2068.7 L1702.1 1941.9 L1724.4 1941.9 L1727.4 1814.2 L1742.3 1814.2 L1746.7 1941.9 L1755.7 1941.9 L1760.1 2067.8 L1764.6 1941.9 L1773.5 1941.9 L1777.4 1814.2 L1781.5 1941.9 L1798.8 1941.9 L1803.3 2067.8 L1816.7 2067.8 L1819.6 1941.9 L1822.6 1814.2 L1856.8 1814.2" fill="none" stroke="#4472C4" stroke-width="5.2" stroke-linejoin="round" opacity="0.8"/>
<path d="M253.8 1814.2h0 M257.9 1814.2h0 M261.9 1814.2h0 M266.0 1814.2h0 M270.1 1814.2h0 M274.1 1814.2h0 M278.2 1814.2h0 M282.3 1814.2h0 M286.3 1814.2h0 M290.4 1814.2h0 M294.5 1814.2h0 M298.6 1814.2h0 M302.6 1814.2h0 M306.7 1814.2h0 M310.8 1814.2h0 M314.8 1814.2h0 M318.9 1814.2h0 M323.0 1814.2h0 M327.0 1814.2h0 M331.1 1814.2h0 M335.2 1814.2h0 M339.2 1814.2h0 M343.3 1814.2h0 M347.4 1814.2h0 M351.4 1814.2h0 M354.4 1922.9h0 M358.6 1922.9h0 M362.7 1922.9h0 M366.9 1922.9h0 M370.5 1814.2h0 M375.8 1814.2h0 M380.3 1920.5h0 M386.2 1920.5h0 M392.2 1920.5h0 M395.5 1814.2h0 M399.8 1814.2h0 M404.1 1814.2h0 M408.4 1814.2h0 M412.7 1814.2h0 M417.0 1814.2h0 M421.3 1814.2h0 M425.6 1814.2h0 M429.9 1814.2h0 M434.2 1814.2h0 M438.5 1814.2h0 M442.8 1814.2h0 M446.7 1923.5h0 M452.2 1923.5h0 M457.7 1923.5h0 M460.7 1814.2h0 M464.7 1814.2h0 M468.8 1814.2h0 M472.9 1814.2h0 M476.9 1814.2h0 M481.0 1814.2h0 M485.1 1814.2h0 M489.2 1814.2h0 M493.2 1814.2h0 M497.3 1814.2h0 M501.4 1814.2h0 M505.5 1814.2h0 M509.5 1814.2h0 M513.6 1814.2h0 M517.7 1814.2h0 M521.7 1814.2h0 M525.8 1814.2h0 M529.9 1814.2h0 M534.0 1814.2h0 M538.0 1814.2h0 M540.1 1944.9h0 M545.1 1944.9h0 M550.0 1944.9h0 M555.0 1944.9h0 M557.4 1814.2h0 M562.6 1814.2h0 M567.8 1814.2h0 M569.9 1948.8h0 M575.1 1948.8h0 M580.4 1948.8h0 M585.7 1948.8h0 M588.6 1814.2h0 M593.5 1814.2h0 M598.3 1814.2h0 M603.1 1814.2h0 M608.0 1814.2h0 M612.4 1924.9h0 M618.4 1924.9h0 M624.3 1924.9h0 M628.2 1814.2h0 M634.2 1814.2h0 M640.1 1814.2h0 M642.2 1950.2h0 M646.3 1950.2h0 M650.4 1950.2h0 M654.5 1950.2h0 M658.6 1950.2h0 M661.0 1814.2h0 M665.7 1814.2h0 M670.5 1814.2h0 M675.2 1814.2h0 M680.0 1814.2h0 M683.0 1941.9h0 M689.2 2068.7h0 M691.9 2193.7h0 M696.7 2320.8h0 M703.8 2314.8h0 M708.3 2312.6h0 M712.7 2310.4h0 M717.7 2309.9h0 M722.7 2309.4h0 M727.6 2308.9h0 M733.6 2310.4h0 M739.5 2311.8h0 M743.7 2311.8h0 M748.0 2311.8h0 M752.2 2311.8h0 M756.4 2311.8h0 M760.6 2311.8h0 M764.8 2311.8h0 M769.0 2311.8h0 M773.3 2311.8h0 M777.5 2311.8h0 M781.7 2311.8h0 M785.9 2311.8h0 M790.1 2311.8h0 M794.6 2312.9h0 M799.0 2313.9h0 M803.2 2313.9h0 M807.3 2313.9h0 M811.4 2313.9h0 M815.5 2313.9h0 M819.7 2313.9h0 M823.8 2313.9h0 M827.9 2313.9h0 M832.0 2313.9h0 M836.1 2313.9h0 M840.3 2313.9h0 M844.4 2313.9h0 M848.5 2313.9h0 M852.6 2313.9h0 M856.7 2313.9h0 M860.9 2313.9h0 M865.0 2313.9h0 M869.1 2313.9h0 M873.2 2313.9h0 M877.3 2313.9h0 M881.5 2313.9h0 M885.6 2313.9h0 M889.7 2313.9h0 M893.8 2313.9h0 M897.9 2313.9h0 M902.1 2313.9h0 M906.2 2313.9h0 M912.1 2312.9h0 M918.1 2311.8h0 M922.3 2311.8h0 M926.5 2311.8h0 M930.7 2311.8h0 M935.0 2311.8h0 M939.2 2311.8h0 M943.4 2311.8h0 M947.6 2311.8h0 M951.8 2311.8h0 M956.0 2311.8h0 M960.3 2311.8h0 M964.5 2311.8h0 M968.7 2311.8h0 M974.6 2310.4h0 M980.6 2308.9h0 M985.1 2310.8h0 M989.5 2312.7h0 M994.0 2312.7h0 M998.5 2312.7h0 M1002.9 2312.7h0 M1007.4 2312.7h0 M1011.8 2312.7h0 M1016.3 2312.7h0 M1020.8 2312.7h0 M1025.2 2312.7h0 M1029.7 2311.8h0 M1034.2 2311.0h0 M1038.6 2310.1h0 M1043.1 2309.2h0 M1047.6 2308.3h0 M1052.0 2307.4h0 M1056.2 2307.4h0 M1060.5 2307.4h0 M1064.7 2307.4h0 M1068.9 2307.4h0 M1073.1 2307.4h0 M1077.3 2307.4h0 M1081.5 2307.4h0 M1085.8 2307.4h0 M1090.0 2307.4h0 M1094.2 2307.4h0 M1098.4 2307.4h0 M1102.6 2307.4h0 M1107.1 2308.9h0 M1111.5 2310.4h0 M1115.6 2310.4h0 M1119.6 2310.4h0 M1123.6 2310.4h0 M1127.7 2310.4h0 M1131.7 2310.4h0 M1135.7 2310.4h0 M1139.7 2310.4h0 M1143.8 2310.4h0 M1147.8 2310.4h0 M1151.8 2310.4h0 M1155.8 2310.4h0 M1159.9 2310.4h0 M1163.9 2310.4h0 M1167.9 2310.4h0 M1171.9 2310.4h0 M1176.0 2310.4h0 M1180.0 2310.4h0 M1184.0 2310.4h0 M1188.1 2310.4h0 M1192.1 2310.4h0 M1196.1 2310.4h0 M1200.2 2310.4h0 M1204.2 2310.4h0 M1208.2 2310.4h0 M1212.3 2310.4h0 M1216.3 2310.4h0 M1219.3 2313.3h0 M1223.5 2313.0h0 M1227.6 2312.7h0 M1231.8 2312.4h0 M1236.0 2312.1h0 M1240.1 2311.8h0 M1243.1 2309.8h0 M1249.0 2311.8h0 M1253.3 2311.8h0 M1257.6 2311.8h0 M1261.8 2311.8h0 M1266.1 2311.8h0 M1270.3 2311.8h0 M1274.6 2311.8h0 M1278.8 2311.8h0 M1283.1 2311.8h0 M1287.3 2311.8h0 M1291.6 2311.8h0 M1295.8 2311.8h0 M1300.1 2311.8h0 M1304.3 2311.8h0 M1308.6 2311.8h0 M1313.0 2313.3h0 M1317.5 2314.8h0 M1322.0 2318.5h0 M1326.4 2322.3h0 M1332.4 2325.5h0 M1338.3 2328.8h0 M1341.9 2199.6h0 M1347.3 2070.2h0 M1351.7 1941.9h0 M1356.2 1814.2h0 M1360.4 1814.2h0 M1364.6 1814.2h0 M1368.8 1814.2h0 M1373.1 1814.2h0 M1377.3 1814.2h0 M1381.5 1814.2h0 M1383.0 1916.0h0 M1388.9 2028.5h0 M1394.1 2028.5h0 M1399.3 2028.5h0 M1400.2 1924.9h0 M1403.8 1814.2h0 M1408.0 1814.2h0 M1412.2 1814.2h0 M1416.5 1814.2h0 M1420.7 1814.2h0 M1424.9 1814.2h0 M1429.1 1814.2h0 M1431.2 1814.2h0 M1432.1 1939.8h0 M1437.2 2067.2h0 M1441.7 2192.8h0 M1444.6 2192.8h0 M1446.1 2317.8h0 M1449.1 2192.8h0 M1453.6 2192.8h0 M1455.1 2063.3h0 M1459.5 1941.9h0 M1465.5 1941.9h0 M1471.4 1941.9h0 M1474.4 2067.2h0 M1476.8 1941.9h0 M1479.2 2067.2h0 M1481.5 1941.9h0 M1483.9 2067.2h0 M1487.8 2067.2h0 M1489.3 2194.3h0 M1495.2 2195.0h0 M1501.2 2195.8h0 M1504.2 2068.7h0 M1508.6 1941.9h0 M1513.5 1941.9h0 M1518.3 1941.9h0 M1523.1 1941.9h0 M1528.0 1941.9h0 M1530.4 1814.2h0 M1532.7 1814.2h0 M1535.4 1941.9h0 M1542.9 2067.2h0 M1550.3 2067.2h0 M1554.8 1941.9h0 M1562.2 1814.2h0 M1566.3 1814.2h0 M1570.4 1814.2h0 M1574.5 1814.2h0 M1578.6 1814.2h0 M1581.5 1941.9h0 M1586.0 2067.2h0 M1590.5 2194.3h0 M1593.5 2068.7h0 M1595.8 2195.8h0 M1598.8 2068.7h0 M1601.2 2197.3h0 M1604.2 2063.3h0 M1608.3 2063.3h0 M1611.9 2194.3h0 M1617.3 2192.8h0 M1621.7 2067.2h0 M1626.2 2067.2h0 M1630.7 1941.9h0 M1638.1 1941.9h0 M1641.7 2067.2h0 M1647.0 2067.2h0 M1651.5 1941.9h0 M1656.0 1941.9h0 M1660.4 1941.9h0 M1664.9 1941.9h0 M1669.3 2067.2h0 M1673.8 2191.3h0 M1679.8 2191.3h0 M1684.2 2316.3h0 M1687.2 2191.3h0 M1693.2 2192.2h0 M1696.1 2068.7h0 M1702.1 1941.9h0 M1706.5 1941.9h0 M1711.0 1941.9h0 M1715.5 1941.9h0 M1719.9 1941.9h0 M1724.4 1941.9h0 M1727.4 1814.2h0 M1732.3 1814.2h0 M1737.3 1814.2h0 M1742.3 1814.2h0 M1746.7 1941.9h0 M1751.2 1941.9h0 M1755.7 1941.9h0 M1760.1 2067.8h0 M1764.6 1941.9h0 M1769.0 1941.9h0 M1773.5 1941.9h0 M1777.4 1814.2h0 M1781.5 1941.9h0 M1785.9 1941.9h0 M1790.2 1941.9h0 M1794.5 1941.9h0 M1798.8 1941.9h0 M1803.3 2067.8h0 M1807.7 2067.8h0 M1812.2 2067.8h0 M1816.7 2067.8h0 M1819.6 1941.9h0 M1822.6 1814.2h0 M1826.9 1814.2h0 M1831.2 1814.2h0 M1835.5 1814.2h0 M1839.7 1814.2h0 M1844.0 1814.2h0 M1848.3 1814.2h0 M1852.6 1814.2h0 M1856.8 1814.2h0" fill="none" stroke="#4472C4" stroke-width="12" stroke-linecap="round"/>
<path d="M253.8 1927.9 L265.7 1932.4 L274.6 1927.9 L283.6 1922.0 L294.0 1926.4 L307.4 1924.9 L316.3 1928.8 L324.6 1934.8 L332.7 1927.9 L344.6 1922.9 L352.0 1928.8 L361.0 1924.9 L372.9 1922.9 L383.3 1931.8 L392.2 1933.9 L401.1 1929.4 L408.6 1927.0 L417.5 1932.4 L426.4 1931.8 L435.4 1927.9 L444.3 1927.9 L450.8 1932.4 L459.2 1928.8 L471.1 1926.4 L480.6 1922.0 L486.0 1928.8 L497.9 1927.9 L506.8 1928.8 L512.7 1934.8 L524.6 1931.8 L536.5 1926.4 L551.4 1925.8 L563.3 1927.0 L575.2 1925.8 L587.1 1927.0 L602.0 1924.9 L616.9 1924.9 L625.8 1920.5 L634.8 1905.6 L643.7 1887.7 L652.6 1868.4 L661.5 1858.0 L669.0 1863.9 L673.5 1887.7 L679.4 1914.5 L685.4 1941.3 L695.8 1941.9 L706.2 1938.3 L712.1 1956.2 L718.1 1974.0 L730.0 2003.8 L727.6 1997.9 L733.6 2002.3 L739.5 1997.9 L747.0 1986.0 L755.9 1983.0 L766.3 1988.9 L778.2 1988.3 L796.1 1981.5 L808.0 1986.0 L828.8 1983.0 L846.7 1980.0 L855.6 1983.0 L872.0 1997.9 L885.4 1996.4 L900.2 2002.3 L909.2 2000.8 L924.0 1988.9 L941.9 1983.0 L953.8 1969.6 L965.7 1965.1 L977.6 1969.6 L986.5 1972.6 L1001.4 1987.4 L1016.3 1991.9 L1031.2 1996.4 L1046.1 1995.8 L1061.0 1990.4 L1077.3 1987.4 L1087.7 1972.6 L1096.7 1969.6 L1102.6 1972.6 L1111.5 1983.0 L1126.4 1987.4 L1144.3 1996.4 L1156.2 1993.4 L1168.1 1995.8 L1180.0 1993.4 L1143.4 1999.3 L1156.8 1993.4 L1170.2 1997.9 L1185.1 1990.4 L1201.4 1993.4 L1216.3 1996.4 L1228.2 1991.9 L1240.1 1996.4 L1253.5 1993.4 L1263.9 2002.3 L1274.3 2008.3 L1284.8 2000.8 L1296.7 1991.9 L1305.6 1983.0 L1311.5 1968.1 L1316.0 1951.7 L1320.5 1935.4 L1324.9 1920.5 L1329.4 1917.5 L1333.9 1923.5 L1338.3 1932.4 L1345.8 1935.4 L1351.7 1920.5 L1356.2 1896.7 L1359.2 1872.9 L1363.6 1852.0 L1368.1 1843.1 L1374.0 1844.6 L1380.0 1852.0 L1384.5 1866.9 L1388.9 1884.8 L1393.4 1896.7 L1397.9 1907.1 L1406.8 1913.0 L1421.7 1914.5 L1436.5 1919.0 L1445.5 1926.4 L1454.4 1936.8 L1466.3 1938.3 L1478.2 1939.8 L1493.1 1941.3 L1511.0 1936.8 L1525.8 1936.8 L1540.7 1936.0 L1558.6 1936.8 L1573.5 1932.4 L1585.4 1935.4 L1597.3 1938.3 L1612.1 1935.4 L1630.0 1935.4 L1632.1 1933.0 L1653.0 1933.0 L1667.9 1934.2 L1685.7 1940.7 L1697.6 1932.4 L1709.5 1927.9 L1724.4 1938.3 L1742.3 1928.8 L1754.2 1936.0 L1766.1 1938.3 L1781.0 1939.8 L1795.8 1935.4 L1810.7 1942.8 L1825.6 1942.8 L1843.5 1941.3 L1853.9 1934.8" fill="none" stroke="#ED7D31" stroke-width="4" stroke-linejoin="round"/>
<path d="M253.8 1926.9h0 M257.8 1928.4h0 M261.7 1931.5h0 M265.7 1931.9h0 M270.2 1930.4h0 M274.6 1927.6h0 M279.1 1925.0h0 M283.6 1920.8h0 M287.0 1922.0h0 M290.5 1926.5h0 M294.0 1926.0h0 M298.5 1924.7h0 M302.9 1925.9h0 M307.4 1925.9h0 M311.8 1925.8h0 M316.3 1929.1h0 M320.5 1931.3h0 M324.6 1934.8h0 M328.7 1929.8h0 M332.7 1926.4h0 M336.6 1927.8h0 M340.6 1925.7h0 M344.6 1922.8h0 M348.3 1926.0h0 M352.0 1928.0h0 M356.5 1927.8h0 M361.0 1924.7h0 M364.9 1925.7h0 M368.9 1924.4h0 M372.9 1923.9h0 M376.3 1927.3h0 M379.8 1928.0h0 M383.3 1930.3h0 M387.7 1931.9h0 M392.2 1932.8h0 M396.7 1930.3h0 M401.1 1928.0h0 M404.9 1928.4h0 M408.6 1928.2h0 M413.0 1929.6h0 M417.5 1933.8h0 M422.0 1933.4h0 M426.4 1930.4h0 M430.9 1930.2h0 M435.4 1927.6h0 M439.8 1926.7h0 M444.3 1929.4h0 M447.6 1929.4h0 M450.8 1932.6h0 M455.0 1931.0h0 M459.2 1930.3h0 M463.1 1928.6h0 M467.1 1926.9h0 M471.1 1926.3h0 M475.8 1923.1h0 M480.6 1923.5h0 M483.3 1927.0h0 M486.0 1927.9h0 M489.9 1927.0h0 M493.9 1927.4h0 M497.9 1927.4h0 M502.3 1929.7h0 M506.8 1930.1h0 M509.8 1932.9h0 M512.7 1933.3h0 M516.7 1934.7h0 M520.7 1933.4h0 M524.6 1932.3h0 M528.6 1931.6h0 M532.6 1926.8h0 M536.5 1925.3h0 M541.5 1927.0h0 M546.5 1927.4h0 M551.4 1926.4h0 M555.4 1925.6h0 M559.4 1926.9h0 M563.3 1927.8h0 M567.3 1925.4h0 M571.3 1925.7h0 M575.2 1925.1h0 M579.2 1925.0h0 M583.2 1926.6h0 M587.1 1926.0h0 M592.1 1925.5h0 M597.1 1924.5h0 M602.0 1925.5h0 M607.0 1923.4h0 M611.9 1925.6h0 M616.9 1924.0h0 M621.4 1921.2h0 M625.8 1921.8h0 M628.1 1915.9h0 M630.3 1914.4h0 M632.5 1910.5h0 M634.8 1906.8h0 M637.0 1900.0h0 M639.2 1896.5h0 M641.5 1890.9h0 M643.7 1889.1h0 M645.5 1885.0h0 M647.3 1880.4h0 M649.0 1876.0h0 M650.8 1871.7h0 M652.6 1869.4h0 M655.6 1864.8h0 M658.6 1861.9h0 M661.5 1856.8h0 M665.3 1860.1h0 M669.0 1862.5h0 M669.9 1869.4h0 M670.8 1873.6h0 M671.7 1877.1h0 M672.6 1884.2h0 M673.5 1887.0h0 M674.4 1891.9h0 M675.4 1895.6h0 M676.4 1900.4h0 M677.4 1906.7h0 M678.4 1909.5h0 M679.4 1913.5h0 M680.4 1919.0h0 M681.4 1922.9h0 M682.4 1929.2h0 M683.4 1931.1h0 M684.4 1938.4h0 M685.4 1939.9h0 M690.6 1942.9h0 M695.8 1942.4h0 M701.0 1939.2h0 M706.2 1938.3h0 M707.7 1942.1h0 M709.2 1946.5h0 M710.7 1950.8h0 M712.1 1955.8h0 M713.6 1962.2h0 M715.1 1966.7h0 M716.6 1970.9h0 M718.1 1972.8h0 M719.8 1977.6h0 M721.5 1983.8h0 M723.2 1985.4h0 M724.9 1991.8h0 M726.6 1994.6h0 M728.3 2001.1h0 M730.0 2002.3h0 M727.6 1998.8h0 M730.6 1999.6h0 M733.6 2001.2h0 M736.5 1998.5h0 M739.5 1998.9h0 M742.0 1994.0h0 M744.5 1988.9h0 M747.0 1985.7h0 M751.4 1985.8h0 M755.9 1982.1h0 M759.4 1985.2h0 M762.8 1985.8h0 M766.3 1987.9h0 M770.3 1989.6h0 M774.2 1989.2h0 M778.2 1987.4h0 M782.7 1985.3h0 M787.1 1983.6h0 M791.6 1983.5h0 M796.1 1981.5h0 M800.0 1982.3h0 M804.0 1983.5h0 M808.0 1986.3h0 M812.1 1986.0h0 M816.3 1985.8h0 M820.5 1984.4h0 M824.6 1982.6h0 M828.8 1981.6h0 M833.3 1983.0h0 M837.7 1981.2h0 M842.2 1981.5h0 M846.7 1978.6h0 M851.1 1982.5h0 M855.6 1982.4h0 M858.9 1987.0h0 M862.1 1990.1h0 M865.4 1991.9h0 M868.7 1993.3h0 M872.0 1999.2h0 M876.4 1997.3h0 M880.9 1998.1h0 M885.4 1995.6h0 M889.1 1996.9h0 M892.8 2000.4h0 M896.5 2000.4h0 M900.2 2001.2h0 M904.7 2001.2h0 M909.2 2001.1h0 M912.9 1996.3h0 M916.6 1994.9h0 M920.3 1991.7h0 M924.0 1989.0h0 M928.5 1986.2h0 M933.0 1986.6h0 M937.4 1985.5h0 M941.9 1984.1h0 M944.9 1979.1h0 M947.9 1977.0h0 M950.8 1972.6h0 M953.8 1970.4h0 M957.8 1966.7h0 M961.7 1967.8h0 M965.7 1966.6h0 M969.7 1966.6h0 M973.7 1968.1h0 M977.6 1969.7h0 M982.1 1971.2h0 M986.5 1971.0h0 M989.5 1977.0h0 M992.5 1977.6h0 M995.5 1980.5h0 M998.5 1983.2h0 M1001.4 1986.6h0 M1006.4 1989.9h0 M1011.3 1988.9h0 M1016.3 1990.6h0 M1021.3 1994.0h0 M1026.2 1993.9h0 M1031.2 1994.8h0 M1036.2 1996.5h0 M1041.1 1996.2h0 M1046.1 1995.8h0 M1049.8 1995.1h0 M1053.5 1991.8h0 M1057.2 1992.9h0 M1061.0 1991.1h0 M1065.0 1988.2h0 M1069.1 1987.7h0 M1073.2 1988.2h0 M1077.3 1987.4h0 M1079.9 1983.0h0 M1082.5 1978.8h0 M1085.1 1976.0h0 M1087.7 1971.4h0 M1092.2 1971.4h0 M1096.7 1970.7h0 M1102.6 1971.4h0 M1105.6 1976.3h0 M1108.6 1980.3h0 M1111.5 1981.9h0 M1116.5 1985.5h0 M1121.5 1987.4h0 M1126.4 1987.1h0 M1130.9 1989.4h0 M1135.4 1993.0h0 M1139.8 1994.2h0 M1144.3 1996.0h0 M1148.3 1996.8h0 M1152.2 1995.3h0 M1156.2 1992.9h0 M1160.2 1993.4h0 M1164.1 1994.5h0 M1168.1 1995.6h0 M1172.1 1996.5h0 M1176.0 1995.2h0 M1180.0 1994.7h0 M1175.4 1995.1h0 M1170.8 1996.0h0 M1166.3 1994.2h0 M1161.7 1996.4h0 M1157.1 1998.6h0 M1152.5 1999.2h0 M1148.0 1997.8h0 M1143.4 1999.1h0 M1147.9 1997.8h0 M1152.3 1994.9h0 M1156.8 1993.5h0 M1161.2 1993.5h0 M1165.7 1996.2h0 M1170.2 1997.9h0 M1173.9 1994.5h0 M1177.6 1993.0h0 M1181.3 1993.8h0 M1185.1 1991.3h0 M1189.2 1992.6h0 M1193.2 1992.3h0 M1197.3 1993.6h0 M1201.4 1994.6h0 M1206.4 1995.6h0 M1211.3 1993.9h0 M1216.3 1996.8h0 M1220.3 1994.1h0 M1224.2 1994.0h0 M1228.2 1991.2h0 M1232.2 1993.5h0 M1236.2 1996.2h0 M1240.1 1996.8h0 M1244.6 1994.6h0 M1249.0 1994.4h0 M1253.5 1993.2h0 M1257.0 1997.8h0 M1260.5 1998.7h0 M1263.9 2001.7h0 M1267.4 2004.8h0 M1270.9 2005.1h0 M1274.3 2008.6h0 M1277.8 2007.3h0 M1281.3 2003.4h0 M1284.8 2000.1h0 M1288.7 1997.7h0 M1292.7 1995.0h0 M1296.7 1990.8h0 M1299.6 1987.7h0 M1302.6 1984.8h0 M1305.6 1982.3h0 M1307.1 1979.0h0 M1308.6 1974.9h0 M1310.1 1971.0h0 M1311.5 1966.8h0 M1312.7 1964.2h0 M1313.8 1961.0h0 M1314.9 1956.2h0 M1316.0 1952.0h0 M1317.1 1948.1h0 M1318.2 1942.6h0 M1319.4 1940.1h0 M1320.5 1935.2h0 M1322.0 1930.6h0 M1323.5 1925.8h0 M1324.9 1920.4h0 M1329.4 1916.9h0 M1331.6 1919.7h0 M1333.9 1922.6h0 M1336.1 1928.0h0 M1338.3 1932.0h0 M1342.1 1934.1h0 M1345.8 1933.8h0 M1347.3 1931.2h0 M1348.8 1929.1h0 M1350.2 1923.4h0 M1351.7 1920.7h0 M1352.6 1915.7h0 M1353.5 1910.3h0 M1354.4 1907.8h0 M1355.3 1900.8h0 M1356.2 1897.5h0 M1356.8 1890.8h0 M1357.4 1885.8h0 M1358.0 1883.6h0 M1358.6 1877.4h0 M1359.2 1871.5h0 M1360.1 1868.3h0 M1361.0 1864.3h0 M1361.8 1861.1h0 M1362.7 1854.9h0 M1363.6 1851.1h0 M1365.9 1849.0h0 M1368.1 1843.9h0 M1374.0 1843.5h0 M1377.0 1847.8h0 M1380.0 1851.6h0 M1381.5 1857.5h0 M1383.0 1862.3h0 M1384.5 1868.0h0 M1385.6 1872.4h0 M1386.7 1875.9h0 M1387.8 1881.1h0 M1388.9 1885.5h0 M1390.4 1889.6h0 M1391.9 1892.6h0 M1393.4 1897.6h0 M1394.9 1900.8h0 M1396.4 1904.9h0 M1397.9 1905.9h0 M1402.3 1911.2h0 M1406.8 1911.4h0 M1411.7 1914.4h0 M1416.7 1914.3h0 M1421.7 1914.5h0 M1426.6 1917.5h0 M1431.6 1917.7h0 M1436.5 1918.7h0 M1439.5 1922.4h0 M1442.5 1925.1h0 M1445.5 1926.8h0 M1448.5 1929.5h0 M1451.4 1933.2h0 M1454.4 1936.7h0 M1458.4 1938.1h0 M1462.3 1937.2h0 M1466.3 1938.0h0 M1470.3 1939.0h0 M1474.2 1939.0h0 M1478.2 1939.3h0 M1483.2 1941.2h0 M1488.1 1941.9h0 M1493.1 1941.3h0 M1497.6 1940.0h0 M1502.0 1938.1h0 M1506.5 1937.3h0 M1511.0 1935.7h0 M1515.9 1937.1h0 M1520.9 1937.1h0 M1525.8 1935.5h0 M1530.8 1937.9h0 M1535.8 1935.7h0 M1540.7 1937.1h0 M1545.2 1937.3h0 M1549.6 1937.9h0 M1554.1 1935.7h0 M1558.6 1936.6h0 M1563.5 1936.7h0 M1568.5 1932.3h0 M1573.5 1930.9h0 M1577.4 1933.6h0 M1581.4 1934.4h0 M1585.4 1936.7h0 M1589.3 1937.2h0 M1593.3 1937.5h0 M1597.3 1939.9h0 M1602.2 1937.4h0 M1607.2 1936.4h0 M1612.1 1935.9h0 M1616.6 1935.0h0 M1621.1 1934.9h0 M1625.5 1935.7h0 M1630.0 1934.9h0 M1632.1 1934.4h0 M1636.3 1933.5h0 M1640.5 1933.1h0 M1644.6 1931.7h0 M1648.8 1932.6h0 M1653.0 1932.7h0 M1657.9 1933.6h0 M1662.9 1934.0h0 M1667.9 1935.4h0 M1672.3 1937.3h0 M1676.8 1937.4h0 M1681.2 1938.9h0 M1685.7 1941.1h0 M1689.7 1939.5h0 M1693.7 1934.7h0 M1697.6 1932.5h0 M1701.6 1931.9h0 M1705.6 1928.4h0 M1709.5 1927.3h0 M1713.2 1932.1h0 M1717.0 1934.2h0 M1720.7 1935.8h0 M1724.4 1937.1h0 M1728.9 1937.2h0 M1733.3 1934.2h0 M1737.8 1932.2h0 M1742.3 1930.4h0 M1746.2 1932.4h0 M1750.2 1933.3h0 M1754.2 1934.9h0 M1758.1 1936.1h0 M1762.1 1937.6h0 M1766.1 1938.3h0 M1771.0 1937.8h0 M1776.0 1938.3h0 M1781.0 1940.2h0 M1785.9 1938.7h0 M1790.9 1936.4h0 M1795.8 1936.9h0 M1799.6 1937.7h0 M1803.3 1937.6h0 M1807.0 1940.7h0 M1810.7 1943.7h0 M1815.7 1942.2h0 M1820.6 1943.4h0 M1825.6 1941.2h0 M1830.1 1941.8h0 M1834.5 1943.1h0 M1839.0 1942.0h0 M1843.5 1941.8h0 M1846.9 1938.2h0 M1850.4 1936.9h0 M1853.9 1934.9h0" fill="none" stroke="#E01A59" stroke-width="11.8" stroke-linecap="round"/>
</g>
<defs><filter id="bl" x="-2%" y="-2%" width="104%" height="104%"><feGaussianBlur stdDeviation="0.9"/></filter></defs>
<g filter="url(#bl)" class="bg">
<text class="big" x="1041" y="1514.5" font-size="107" text-anchor="middle" textLength="1593" lengthAdjust="spacingAndGlyphs">Sensor Values in Standing Up and</text>
<text class="big" x="1041.5" y="1658" font-size="107" text-anchor="middle" textLength="612" lengthAdjust="spacingAndGlyphs">Sitting Down</text>
<text x="191.5" y="1759.5" font-size="45" text-anchor="end" textLength="102" lengthAdjust="spacingAndGlyphs">9250</text>
<text x="191.5" y="1825.4" font-size="45" text-anchor="end" textLength="102" lengthAdjust="spacingAndGlyphs">8250</text>
<text x="191.5" y="1891.2" font-size="45" text-anchor="end" textLength="102" lengthAdjust="spacingAndGlyphs">7250</text>
<text x="191.5" y="1957.1" font-size="45" text-anchor="end" textLength="102" lengthAdjust="spacingAndGlyphs">6250</text>
<text x="191.5" y="2023.0" font-size="45" text-anchor="end" textLength="102" lengthAdjust="spacingAndGlyphs">5250</text>
<text x="191.5" y="2088.8" font-size="45" text-anchor="end" textLength="102" lengthAdjust="spacingAndGlyphs">4250</text>
<text x="191.5" y="2154.7" font-size="45" text-anchor="end" textLength="102" lengthAdjust="spacingAndGlyphs">3250</text>
<text x="191.5" y="2220.6" font-size="45" text-anchor="end" textLength="102" lengthAdjust="spacingAndGlyphs">2250</text>
<text x="191.5" y="2286.4" font-size="45" text-anchor="end" textLength="102" lengthAdjust="spacingAndGlyphs">1250</text>
<text x="191.5" y="2352.3" font-size="45" text-anchor="end" textLength="77" lengthAdjust="spacingAndGlyphs">250</text>
<text x="1905" y="1759.5" font-size="45">1200</text>
<text x="1905" y="1858.3" font-size="45">1000</text>
<text x="1905" y="1957.1" font-size="45">800</text>
<text x="1905" y="2055.9" font-size="45">600</text>
<text x="1905" y="2154.7" font-size="45">400</text>
<text x="1905" y="2253.5" font-size="45">200</text>
<text x="1905" y="2352.3" font-size="45">0</text>
<text x="239.1" y="2430.5" font-size="52" text-anchor="middle">0</text>
<text x="463.3" y="2430.5" font-size="52" text-anchor="middle">5</text>
<text x="687.5" y="2430.5" font-size="52" text-anchor="middle">10</text>
<text x="911.7" y="2430.5" font-size="52" text-anchor="middle">15</text>
<text x="1135.9" y="2430.5" font-size="52" text-anchor="middle">20</text>
<text x="1360.1" y="2430.5" font-size="52" text-anchor="middle">25</text>
<text x="1584.3" y="2430.5" font-size="52" text-anchor="middle">30</text>
<text x="1808.5" y="2430.5" font-size="52" text-anchor="middle">35</text>
<text transform="translate(60,2041.6) rotate(-90)" font-size="52" text-anchor="middle">da (mm)</text>
<text transform="translate(2066,2041.6) rotate(-90)" font-size="47" text-anchor="middle" style="fill:#777">db (mm)</text>
<text class="nb" x="1046.5" y="2513.2" font-size="50" font-weight="bold" text-anchor="middle" textLength="196" lengthAdjust="spacingAndGlyphs" style="fill:#747474">Time (s)</text>
<line x1="1666" x2="1742.3" y1="2545.4" y2="2545.4" stroke="#4472C4" stroke-width="5.5"/><circle cx="1703.6" cy="2545.4" r="7" fill="#4472C4"/>
<text x="1751.5" y="2572.5" font-size="80" textLength="80" lengthAdjust="spacingAndGlyphs">da</text>
<line x1="1867.3" x2="1942.3" y1="2545.4" y2="2545.4" stroke="#ED7D31" stroke-width="5"/><circle cx="1904.2" cy="2545.4" r="7.5" fill="#E01A59"/>
<text x="1951" y="2572.5" font-size="80" textLength="86" lengthAdjust="spacingAndGlyphs">db</text>
</g>
<text class="ser" x="1045.5" y="2717.9" font-size="86" text-anchor="middle"><tspan class="par">(</tspan><tspan font-weight="bold">b</tspan><tspan class="par">)</tspan></text>
</svg></body></html>
